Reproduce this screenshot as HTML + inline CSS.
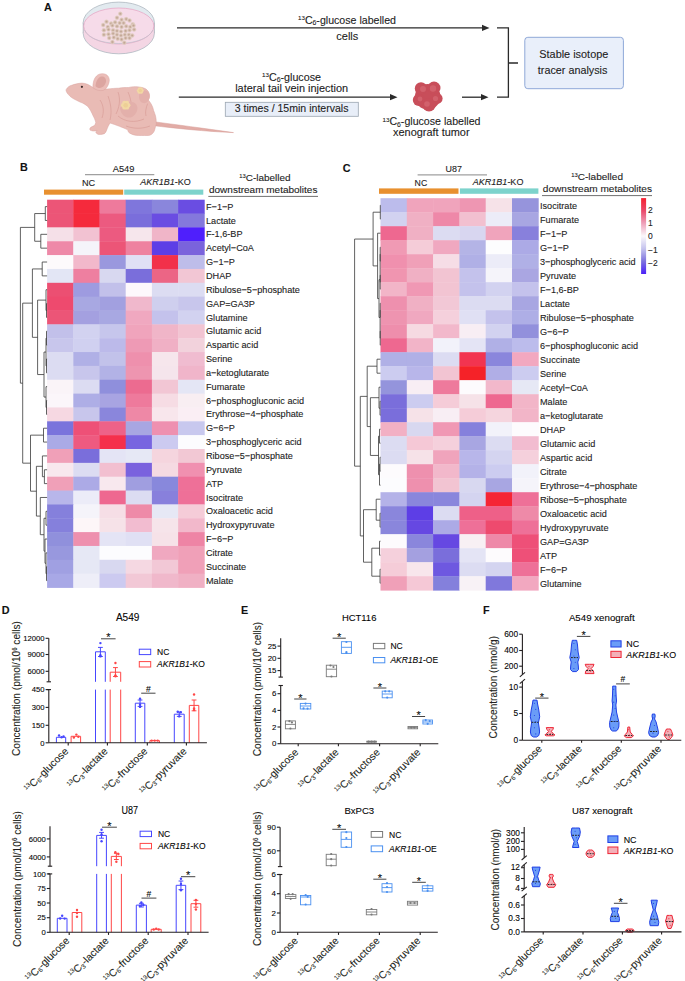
<!DOCTYPE html><html><head><meta charset="utf-8"><style>html,body{margin:0;padding:0;background:#fff;}svg{display:block;font-family:"Liberation Sans", sans-serif;} text{stroke:#231f20;stroke-width:0.1px;}</style></head><body><svg width="685" height="981" viewBox="0 0 685 981"><rect width="685" height="981" fill="#fff"/><text x="44.00" y="11.20" font-size="10.8" font-weight="bold" fill="#111">A</text>
<g>
<ellipse cx="118.8" cy="33.2" rx="35.6" ry="20.6" fill="#f4d6e4" stroke="#aeb8c0" stroke-width="0.8"/>
<rect x="83.2" y="22.7" width="71.2" height="10.5" fill="#f4d6e4"/>
<line x1="83.2" y1="22.7" x2="83.2" y2="33.2" stroke="#aeb8c0" stroke-width="0.8"/>
<line x1="154.4" y1="22.7" x2="154.4" y2="33.2" stroke="#aeb8c0" stroke-width="0.8"/>
<ellipse cx="118.8" cy="22.7" rx="35.6" ry="20.6" fill="#e2eaef" stroke="#aeb8c0" stroke-width="0.8"/>
<ellipse cx="118.8" cy="26.0" rx="35.1" ry="18.0" fill="#f6dbe9" stroke="#e4a2c2" stroke-width="0.7"/>
<path d="M84.5,30 C88,38 100,43 118.8,43.5 C137,43 149,38 153,30" fill="none" stroke="#b8c4cc" stroke-width="0.6"/>
<circle cx="120.3" cy="13.8" r="2.0" fill="#d4bcae" stroke="#e6d6cc" stroke-width="0.5"/>
<circle cx="120.3" cy="13.8" r="0.8" fill="#c0a393"/>
<circle cx="117.0" cy="17.7" r="2.0" fill="#d4bcae" stroke="#e6d6cc" stroke-width="0.5"/>
<circle cx="117.0" cy="17.7" r="0.8" fill="#c0a393"/>
<circle cx="121.6" cy="19.7" r="2.0" fill="#d4bcae" stroke="#e6d6cc" stroke-width="0.5"/>
<circle cx="121.6" cy="19.7" r="0.8" fill="#c0a393"/>
<circle cx="126.2" cy="19.1" r="2.0" fill="#d4bcae" stroke="#e6d6cc" stroke-width="0.5"/>
<circle cx="126.2" cy="19.1" r="0.8" fill="#c0a393"/>
<circle cx="129.5" cy="20.4" r="2.0" fill="#d4bcae" stroke="#e6d6cc" stroke-width="0.5"/>
<circle cx="129.5" cy="20.4" r="0.8" fill="#c0a393"/>
<circle cx="106.5" cy="21.7" r="2.0" fill="#d4bcae" stroke="#e6d6cc" stroke-width="0.5"/>
<circle cx="106.5" cy="21.7" r="0.8" fill="#c0a393"/>
<circle cx="111.1" cy="23.6" r="2.0" fill="#d4bcae" stroke="#e6d6cc" stroke-width="0.5"/>
<circle cx="111.1" cy="23.6" r="0.8" fill="#c0a393"/>
<circle cx="115.1" cy="22.3" r="2.0" fill="#d4bcae" stroke="#e6d6cc" stroke-width="0.5"/>
<circle cx="115.1" cy="22.3" r="0.8" fill="#c0a393"/>
<circle cx="119.7" cy="23.0" r="2.0" fill="#d4bcae" stroke="#e6d6cc" stroke-width="0.5"/>
<circle cx="119.7" cy="23.0" r="0.8" fill="#c0a393"/>
<circle cx="123.6" cy="23.0" r="2.0" fill="#d4bcae" stroke="#e6d6cc" stroke-width="0.5"/>
<circle cx="123.6" cy="23.0" r="0.8" fill="#c0a393"/>
<circle cx="132.8" cy="24.3" r="2.0" fill="#d4bcae" stroke="#e6d6cc" stroke-width="0.5"/>
<circle cx="132.8" cy="24.3" r="0.8" fill="#c0a393"/>
<circle cx="103.2" cy="25.0" r="2.0" fill="#d4bcae" stroke="#e6d6cc" stroke-width="0.5"/>
<circle cx="103.2" cy="25.0" r="0.8" fill="#c0a393"/>
<circle cx="107.8" cy="26.9" r="2.0" fill="#d4bcae" stroke="#e6d6cc" stroke-width="0.5"/>
<circle cx="107.8" cy="26.9" r="0.8" fill="#c0a393"/>
<circle cx="112.4" cy="25.6" r="2.0" fill="#d4bcae" stroke="#e6d6cc" stroke-width="0.5"/>
<circle cx="112.4" cy="25.6" r="0.8" fill="#c0a393"/>
<circle cx="117.0" cy="26.3" r="2.0" fill="#d4bcae" stroke="#e6d6cc" stroke-width="0.5"/>
<circle cx="117.0" cy="26.3" r="0.8" fill="#c0a393"/>
<circle cx="121.6" cy="26.9" r="2.0" fill="#d4bcae" stroke="#e6d6cc" stroke-width="0.5"/>
<circle cx="121.6" cy="26.9" r="0.8" fill="#c0a393"/>
<circle cx="126.2" cy="26.3" r="2.0" fill="#d4bcae" stroke="#e6d6cc" stroke-width="0.5"/>
<circle cx="126.2" cy="26.3" r="0.8" fill="#c0a393"/>
<circle cx="130.2" cy="26.9" r="2.0" fill="#d4bcae" stroke="#e6d6cc" stroke-width="0.5"/>
<circle cx="130.2" cy="26.9" r="0.8" fill="#c0a393"/>
<circle cx="133.5" cy="25.6" r="2.0" fill="#d4bcae" stroke="#e6d6cc" stroke-width="0.5"/>
<circle cx="133.5" cy="25.6" r="0.8" fill="#c0a393"/>
<circle cx="103.9" cy="30.2" r="2.0" fill="#d4bcae" stroke="#e6d6cc" stroke-width="0.5"/>
<circle cx="103.9" cy="30.2" r="0.8" fill="#c0a393"/>
<circle cx="108.5" cy="29.6" r="2.0" fill="#d4bcae" stroke="#e6d6cc" stroke-width="0.5"/>
<circle cx="108.5" cy="29.6" r="0.8" fill="#c0a393"/>
<circle cx="113.1" cy="30.2" r="2.0" fill="#d4bcae" stroke="#e6d6cc" stroke-width="0.5"/>
<circle cx="113.1" cy="30.2" r="0.8" fill="#c0a393"/>
<circle cx="117.0" cy="30.9" r="2.0" fill="#d4bcae" stroke="#e6d6cc" stroke-width="0.5"/>
<circle cx="117.0" cy="30.9" r="0.8" fill="#c0a393"/>
<circle cx="121.0" cy="31.5" r="2.0" fill="#d4bcae" stroke="#e6d6cc" stroke-width="0.5"/>
<circle cx="121.0" cy="31.5" r="0.8" fill="#c0a393"/>
<circle cx="125.6" cy="30.9" r="2.0" fill="#d4bcae" stroke="#e6d6cc" stroke-width="0.5"/>
<circle cx="125.6" cy="30.9" r="0.8" fill="#c0a393"/>
<circle cx="129.5" cy="30.2" r="2.0" fill="#d4bcae" stroke="#e6d6cc" stroke-width="0.5"/>
<circle cx="129.5" cy="30.2" r="0.8" fill="#c0a393"/>
<circle cx="134.1" cy="29.6" r="2.0" fill="#d4bcae" stroke="#e6d6cc" stroke-width="0.5"/>
<circle cx="134.1" cy="29.6" r="0.8" fill="#c0a393"/>
<circle cx="103.9" cy="34.8" r="2.0" fill="#d4bcae" stroke="#e6d6cc" stroke-width="0.5"/>
<circle cx="103.9" cy="34.8" r="0.8" fill="#c0a393"/>
<circle cx="108.5" cy="34.2" r="2.0" fill="#d4bcae" stroke="#e6d6cc" stroke-width="0.5"/>
<circle cx="108.5" cy="34.2" r="0.8" fill="#c0a393"/>
<circle cx="113.1" cy="33.5" r="2.0" fill="#d4bcae" stroke="#e6d6cc" stroke-width="0.5"/>
<circle cx="113.1" cy="33.5" r="0.8" fill="#c0a393"/>
<circle cx="117.0" cy="34.8" r="2.0" fill="#d4bcae" stroke="#e6d6cc" stroke-width="0.5"/>
<circle cx="117.0" cy="34.8" r="0.8" fill="#c0a393"/>
<circle cx="121.0" cy="35.5" r="2.0" fill="#d4bcae" stroke="#e6d6cc" stroke-width="0.5"/>
<circle cx="121.0" cy="35.5" r="0.8" fill="#c0a393"/>
<circle cx="124.9" cy="34.8" r="2.0" fill="#d4bcae" stroke="#e6d6cc" stroke-width="0.5"/>
<circle cx="124.9" cy="34.8" r="0.8" fill="#c0a393"/>
<circle cx="128.9" cy="34.8" r="2.0" fill="#d4bcae" stroke="#e6d6cc" stroke-width="0.5"/>
<circle cx="128.9" cy="34.8" r="0.8" fill="#c0a393"/>
<circle cx="132.2" cy="35.5" r="2.0" fill="#d4bcae" stroke="#e6d6cc" stroke-width="0.5"/>
<circle cx="132.2" cy="35.5" r="0.8" fill="#c0a393"/>
<circle cx="109.2" cy="38.1" r="2.0" fill="#d4bcae" stroke="#e6d6cc" stroke-width="0.5"/>
<circle cx="109.2" cy="38.1" r="0.8" fill="#c0a393"/>
<circle cx="113.8" cy="37.4" r="2.0" fill="#d4bcae" stroke="#e6d6cc" stroke-width="0.5"/>
<circle cx="113.8" cy="37.4" r="0.8" fill="#c0a393"/>
<circle cx="117.7" cy="38.8" r="2.0" fill="#d4bcae" stroke="#e6d6cc" stroke-width="0.5"/>
<circle cx="117.7" cy="38.8" r="0.8" fill="#c0a393"/>
<circle cx="121.6" cy="39.4" r="2.0" fill="#d4bcae" stroke="#e6d6cc" stroke-width="0.5"/>
<circle cx="121.6" cy="39.4" r="0.8" fill="#c0a393"/>
<circle cx="125.6" cy="38.1" r="2.0" fill="#d4bcae" stroke="#e6d6cc" stroke-width="0.5"/>
<circle cx="125.6" cy="38.1" r="0.8" fill="#c0a393"/>
<circle cx="129.5" cy="38.1" r="2.0" fill="#d4bcae" stroke="#e6d6cc" stroke-width="0.5"/>
<circle cx="129.5" cy="38.1" r="0.8" fill="#c0a393"/>
<circle cx="112.4" cy="42.0" r="2.0" fill="#d4bcae" stroke="#e6d6cc" stroke-width="0.5"/>
<circle cx="112.4" cy="42.0" r="0.8" fill="#c0a393"/>
<circle cx="124.3" cy="42.7" r="2.0" fill="#d4bcae" stroke="#e6d6cc" stroke-width="0.5"/>
<circle cx="124.3" cy="42.7" r="0.8" fill="#c0a393"/>
</g>
<path d="M152,121.5 C175,124.5 205,128.5 233.5,132.6 C205,131.5 176,128.3 152,125.5 Z" fill="#e2aca6" stroke="#d69c97" stroke-width="0.5"/>
<path d="M66.1,89.7 C67.5,87 69.5,85.8 71.7,85.3 C75,84 78.5,83.3 81.9,83.1 C86,83.2 89.5,85 92.8,87.5 C98,88.6 104,88.6 107.4,89 C112,88.5 116,88.2 118.4,88.2 C122,87.6 126,87.5 128.6,87.5 C132,86.6 135,86.5 137.4,86.8 C142,87.2 146,88 148,91 C150,93.5 150,98 148.3,100 C151,103 153,107 153.6,110.5 C155,114 156.5,118 156.2,122.3 C156.5,124 156,125.5 155.5,126.3 C155,129 154.5,131 153.6,132.2 C152,134.5 150,135.5 148.3,135.5 C143,135.6 139,135.5 135.2,135.2 C132,134.5 130,133.5 128.6,132.2 C128,131 127.8,130.2 127.3,129.6 C124,128 121.5,127.2 119.4,126.3 C116,125 113,124 110.2,123 C108.5,125 107.5,128 106.3,130.9 C105.5,133 104.5,133.8 103.6,133.9 C101.5,134.5 100,134.5 98.4,134.4 C97,134 96,133 95.8,132.2 C96,131.5 96.5,131 97.1,130.2 C95.5,131 94,131.2 92.5,130.9 C90.5,130.5 89.5,130 89.9,129.6 C89.8,128.5 90,128 90.5,127.6 C92,126.5 93.5,126 94.5,125.6 C95.2,124.5 95.5,123.5 95.8,122.3 C95,119.5 94,117.5 93.1,115.8 C91.5,112 89.8,109 87.9,106.6 C85.5,104.5 83,103 80,102 C77.5,100.8 75.3,99.7 73.1,98.5 C71,97.3 69.3,95.8 68,94.1 C66.8,92.6 65.8,91 66.1,89.7 Z" fill="#e9bbb5" stroke="#d9a39e" stroke-width="0.5"/>
<path d="M92.8,87.5 C93,82 94,78.5 96.5,76 C99,73.5 103,73 106,74.5 C109.5,76.5 110,80.5 108.5,84 C107.5,87 106,89 103,90.5 C99,91 95.5,90 92.8,87.5 Z" fill="#ebbdb8" stroke="#d9a39e" stroke-width="0.5"/>
<path d="M95.5,86 C96,81 98,77.5 101,76.5 C104,76 106.5,78 106,82 C105,85.5 103,87.5 100,88 C98,88 96.5,87.5 95.5,86 Z" fill="#dca5a0"/>
<path d="M147.6,103.6 C146,108 145,112 146,116 M118,92 C121,100 119,108 116,114 M128,92 C131,99 132,104 130,110 M108,96 C111,104 112,112 110,120 M123,112 C128,114 134,113 137,110 M118,116 C125,122 135,123 144,119 M126,126 C134,129 142,129 150,126 M100,100 C104,106 104,112 102,118" fill="none" stroke="#d49590" stroke-width="0.6" opacity="0.9"/>
<path d="M120,108 C124,101 132,100 136,104 C139,108 137,114 132,117 C127,119 121,116 120,108 Z" fill="#e3b0ab"/>
<path d="M140,92 C143,89 149,90 149.5,95 C150,100 147,104 143,103 C139,102 138,96 140,92 Z" fill="#e3b0ab"/>
<circle cx="81.9" cy="86.8" r="1.1" fill="#3a2a2a"/>
<circle cx="128.23" cy="105.20" r="2.21" fill="#f2d8a4"/>
<circle cx="126.97" cy="107.39" r="2.21" fill="#f2d8a4"/>
<circle cx="124.44" cy="107.39" r="2.21" fill="#f2d8a4"/>
<circle cx="123.17" cy="105.20" r="2.21" fill="#f2d8a4"/>
<circle cx="124.44" cy="103.01" r="2.21" fill="#f2d8a4"/>
<circle cx="126.97" cy="103.01" r="2.21" fill="#f2d8a4"/>
<circle cx="125.7" cy="105.2" r="2.30" fill="#edcf96"/>
<circle cx="142.17" cy="90.60" r="1.63" fill="#f2d8a4"/>
<circle cx="141.24" cy="92.22" r="1.63" fill="#f2d8a4"/>
<circle cx="139.37" cy="92.22" r="1.63" fill="#f2d8a4"/>
<circle cx="138.43" cy="90.60" r="1.63" fill="#f2d8a4"/>
<circle cx="139.37" cy="88.98" r="1.63" fill="#f2d8a4"/>
<circle cx="141.24" cy="88.98" r="1.63" fill="#f2d8a4"/>
<circle cx="140.3" cy="90.6" r="1.70" fill="#edcf96"/>
<line x1="177.00" y1="27.90" x2="483.00" y2="27.90" stroke="#2a2a2a" stroke-width="1.3"/>
<path d="M482,24.8 L489.5,27.9 L482,31 Z" fill="#2a2a2a"/>
<line x1="178.80" y1="97.20" x2="391.00" y2="97.20" stroke="#2a2a2a" stroke-width="1.3"/>
<path d="M390,94.1 L397.5,97.2 L390,100.3 Z" fill="#2a2a2a"/>
<line x1="462.00" y1="97.20" x2="482.00" y2="97.20" stroke="#2a2a2a" stroke-width="1.3"/>
<path d="M481,94.1 L488.5,97.2 L481,100.3 Z" fill="#2a2a2a"/>
<path d="M497,27.9 H508.4 V97.2 H497 M508.4,63 H518" fill="none" stroke="#2a2a2a" stroke-width="1.3"/>
<rect x="524.80" y="37.30" width="98.60" height="51.40" fill="#e9effa" stroke="#8fa8d8" stroke-width="1" rx="3" />
<text x="573.80" y="57.90" font-size="11.2" text-anchor="middle" fill="#222" textLength="69.00" lengthAdjust="spacingAndGlyphs">Stable isotope</text>
<text x="572.60" y="73.50" font-size="11.2" text-anchor="middle" fill="#222" textLength="69.50" lengthAdjust="spacingAndGlyphs">tracer analysis</text>
<text x="298.00" y="23.50" font-size="10.6" fill="#222" textLength="98.00" lengthAdjust="spacingAndGlyphs"><tspan font-size="6.2" dy="-3.6">13</tspan><tspan dy="3.6">C</tspan><tspan font-size="6.8" dy="1.3">6</tspan><tspan dy="-1.3">-glucose labelled</tspan></text>
<text x="336.30" y="39.50" font-size="10.6" fill="#222" textLength="22.00" lengthAdjust="spacingAndGlyphs">cells</text>
<text x="262.00" y="80.60" font-size="10.6" fill="#222" textLength="59.00" lengthAdjust="spacingAndGlyphs"><tspan font-size="6.2" dy="-3.6">13</tspan><tspan dy="3.6">C</tspan><tspan font-size="6.8" dy="1.3">6</tspan><tspan dy="-1.3">-glucose</tspan></text>
<text x="235.20" y="92.00" font-size="10.6" fill="#222" textLength="113.00" lengthAdjust="spacingAndGlyphs">lateral tail vein injection</text>
<rect x="225.30" y="102.30" width="133.00" height="14.00" fill="#e8eef8" stroke="#9aa4b0" stroke-width="0.8" />
<text x="234.70" y="112.20" font-size="10.6" fill="#222" textLength="113.80" lengthAdjust="spacingAndGlyphs">3 times / 15min intervals</text>
<text x="382.50" y="125.40" font-size="10.6" fill="#222" textLength="98.00" lengthAdjust="spacingAndGlyphs"><tspan font-size="6.2" dy="-3.6">13</tspan><tspan dy="3.6">C</tspan><tspan font-size="6.8" dy="1.3">6</tspan><tspan dy="-1.3">-glucose labelled</tspan></text>
<text x="393.00" y="135.80" font-size="10.6" fill="#222" textLength="76.60" lengthAdjust="spacingAndGlyphs">xenograft tumor</text>
<g>
<circle cx="427.7" cy="96.8" r="12.8" fill="#c84e5a"/>
<circle cx="421" cy="88.5" r="6.2" fill="#c84e5a"/>
<circle cx="434" cy="88" r="6.5" fill="#c84e5a"/>
<circle cx="437.2" cy="98.5" r="5.4" fill="#c84e5a"/>
<circle cx="429" cy="104.8" r="6.8" fill="#c84e5a"/>
<circle cx="418.8" cy="100" r="6" fill="#c84e5a"/>
<circle cx="423" cy="89" r="3.0" fill="#d66a74" opacity="0.7"/>
<circle cx="433" cy="88.5" r="3.2" fill="#d66a74" opacity="0.7"/>
<circle cx="435.5" cy="98.5" r="2.6" fill="#d66a74" opacity="0.7"/>
<circle cx="427" cy="104" r="2.8" fill="#d66a74" opacity="0.7"/>
<circle cx="420" cy="99" r="2.4" fill="#d66a74" opacity="0.7"/>
</g>
<text x="20.00" y="171.40" font-size="10.8" font-weight="bold" fill="#111">B</text>
<text x="112.70" y="171.80" font-size="9" fill="#222" textLength="21.80" lengthAdjust="spacingAndGlyphs">A549</text>
<line x1="85.00" y1="174.60" x2="154.30" y2="174.60" stroke="#a0a0a0" stroke-width="1.2"/>
<text x="82.00" y="185.80" font-size="9" fill="#222" textLength="13.20" lengthAdjust="spacingAndGlyphs">NC</text>
<text x="190.70" y="185.30" font-size="9" text-anchor="end" fill="#222"><tspan font-style="italic">AKR1B1</tspan>-KO</text>
<rect x="44.00" y="189.60" width="79.20" height="5.10" fill="#e8902f" />
<rect x="124.20" y="189.60" width="79.10" height="5.10" fill="#7dd3cc" />
<text x="239.30" y="181.30" font-size="9.5" fill="#222" textLength="51.30" lengthAdjust="spacingAndGlyphs"><tspan font-size="5.5" dy="-3.5">13</tspan><tspan dy="3.5">C-labelled</tspan></text>
<text x="209.00" y="193.10" font-size="9.5" fill="#222" textLength="108.40" lengthAdjust="spacingAndGlyphs">downstream metabolites</text>
<line x1="208.30" y1="196.40" x2="318.00" y2="196.40" stroke="#707070" stroke-width="1"/>
<rect x="47.10" y="199.70" width="26.60" height="14.25" fill="#ec5577"/>
<rect x="73.30" y="199.70" width="26.60" height="14.25" fill="#f52a3c"/>
<rect x="99.50" y="199.70" width="26.60" height="14.25" fill="#ee7a9c"/>
<rect x="125.70" y="199.70" width="26.60" height="14.25" fill="#7f76dc"/>
<rect x="151.90" y="199.70" width="26.60" height="14.25" fill="#8a86dc"/>
<rect x="178.10" y="199.70" width="26.60" height="14.25" fill="#6a4de2"/>
<rect x="47.10" y="213.55" width="26.60" height="14.25" fill="#ec5577"/>
<rect x="73.30" y="213.55" width="26.60" height="14.25" fill="#f52a3c"/>
<rect x="99.50" y="213.55" width="26.60" height="14.25" fill="#ec5a80"/>
<rect x="125.70" y="213.55" width="26.60" height="14.25" fill="#7a6edb"/>
<rect x="151.90" y="213.55" width="26.60" height="14.25" fill="#6a4de2"/>
<rect x="178.10" y="213.55" width="26.60" height="14.25" fill="#8478dc"/>
<rect x="47.10" y="227.40" width="26.60" height="14.25" fill="#f5e0e8"/>
<rect x="73.30" y="227.40" width="26.60" height="14.25" fill="#f2c2d2"/>
<rect x="99.50" y="227.40" width="26.60" height="14.25" fill="#ec5a80"/>
<rect x="125.70" y="227.40" width="26.60" height="14.25" fill="#f6e6ec"/>
<rect x="151.90" y="227.40" width="26.60" height="14.25" fill="#f0b5c8"/>
<rect x="178.10" y="227.40" width="26.60" height="14.25" fill="#4f1ffc"/>
<rect x="47.10" y="241.25" width="26.60" height="14.25" fill="#ee89a8"/>
<rect x="73.30" y="241.25" width="26.60" height="14.25" fill="#f5f4fa"/>
<rect x="99.50" y="241.25" width="26.60" height="14.25" fill="#ec5577"/>
<rect x="125.70" y="241.25" width="26.60" height="14.25" fill="#ee82a0"/>
<rect x="151.90" y="241.25" width="26.60" height="14.25" fill="#5d3ee6"/>
<rect x="178.10" y="241.25" width="26.60" height="14.25" fill="#7a63dc"/>
<rect x="47.10" y="255.10" width="26.60" height="14.25" fill="#fdfafc"/>
<rect x="73.30" y="255.10" width="26.60" height="14.25" fill="#f2b8cb"/>
<rect x="99.50" y="255.10" width="26.60" height="14.25" fill="#9a98de"/>
<rect x="125.70" y="255.10" width="26.60" height="14.25" fill="#e0e0f5"/>
<rect x="151.90" y="255.10" width="26.60" height="14.25" fill="#f2304a"/>
<rect x="178.10" y="255.10" width="26.60" height="14.25" fill="#bebdea"/>
<rect x="47.10" y="268.95" width="26.60" height="14.25" fill="#e3e6f5"/>
<rect x="73.30" y="268.95" width="26.60" height="14.25" fill="#ee7fa0"/>
<rect x="99.50" y="268.95" width="26.60" height="14.25" fill="#d8d8f0"/>
<rect x="125.70" y="268.95" width="26.60" height="14.25" fill="#7a6edb"/>
<rect x="151.90" y="268.95" width="26.60" height="14.25" fill="#ec6585"/>
<rect x="178.10" y="268.95" width="26.60" height="14.25" fill="#f2c6d4"/>
<rect x="47.10" y="282.80" width="26.60" height="14.25" fill="#ec4f72"/>
<rect x="73.30" y="282.80" width="26.60" height="14.25" fill="#9e9be0"/>
<rect x="99.50" y="282.80" width="26.60" height="14.25" fill="#c2c0ea"/>
<rect x="125.70" y="282.80" width="26.60" height="14.25" fill="#fdf8fc"/>
<rect x="151.90" y="282.80" width="26.60" height="14.25" fill="#dcdcf2"/>
<rect x="178.10" y="282.80" width="26.60" height="14.25" fill="#dcdcf2"/>
<rect x="47.10" y="296.65" width="26.60" height="14.25" fill="#ee4a6e"/>
<rect x="73.30" y="296.65" width="26.60" height="14.25" fill="#a8a8e2"/>
<rect x="99.50" y="296.65" width="26.60" height="14.25" fill="#a2a0e0"/>
<rect x="125.70" y="296.65" width="26.60" height="14.25" fill="#f0b8cc"/>
<rect x="151.90" y="296.65" width="26.60" height="14.25" fill="#cfcfee"/>
<rect x="178.10" y="296.65" width="26.60" height="14.25" fill="#c8c6ec"/>
<rect x="47.10" y="310.50" width="26.60" height="14.25" fill="#ec5577"/>
<rect x="73.30" y="310.50" width="26.60" height="14.25" fill="#a4a0e0"/>
<rect x="99.50" y="310.50" width="26.60" height="14.25" fill="#a8a8e2"/>
<rect x="125.70" y="310.50" width="26.60" height="14.25" fill="#f0a8c0"/>
<rect x="151.90" y="310.50" width="26.60" height="14.25" fill="#c4c2ec"/>
<rect x="178.10" y="310.50" width="26.60" height="14.25" fill="#d2d2f0"/>
<rect x="47.10" y="324.35" width="26.60" height="14.25" fill="#c2c0ea"/>
<rect x="73.30" y="324.35" width="26.60" height="14.25" fill="#d2d2f0"/>
<rect x="99.50" y="324.35" width="26.60" height="14.25" fill="#c6c6ec"/>
<rect x="125.70" y="324.35" width="26.60" height="14.25" fill="#f0a4bc"/>
<rect x="151.90" y="324.35" width="26.60" height="14.25" fill="#f0b5c8"/>
<rect x="178.10" y="324.35" width="26.60" height="14.25" fill="#f2c4d2"/>
<rect x="47.10" y="338.20" width="26.60" height="14.25" fill="#c8c6ec"/>
<rect x="73.30" y="338.20" width="26.60" height="14.25" fill="#d0d0f0"/>
<rect x="99.50" y="338.20" width="26.60" height="14.25" fill="#bcbaea"/>
<rect x="125.70" y="338.20" width="26.60" height="14.25" fill="#ee9ab5"/>
<rect x="151.90" y="338.20" width="26.60" height="14.25" fill="#f0b0c5"/>
<rect x="178.10" y="338.20" width="26.60" height="14.25" fill="#f2d2dc"/>
<rect x="47.10" y="352.05" width="26.60" height="14.25" fill="#dcdcf2"/>
<rect x="73.30" y="352.05" width="26.60" height="14.25" fill="#b0b0e6"/>
<rect x="99.50" y="352.05" width="26.60" height="14.25" fill="#c2c2ea"/>
<rect x="125.70" y="352.05" width="26.60" height="14.25" fill="#ee90ad"/>
<rect x="151.90" y="352.05" width="26.60" height="14.25" fill="#f6e6ec"/>
<rect x="178.10" y="352.05" width="26.60" height="14.25" fill="#f0bcd0"/>
<rect x="47.10" y="365.90" width="26.60" height="14.25" fill="#dcdcf2"/>
<rect x="73.30" y="365.90" width="26.60" height="14.25" fill="#c8c6ec"/>
<rect x="99.50" y="365.90" width="26.60" height="14.25" fill="#b2b2e6"/>
<rect x="125.70" y="365.90" width="26.60" height="14.25" fill="#ee95b0"/>
<rect x="151.90" y="365.90" width="26.60" height="14.25" fill="#f5e5ec"/>
<rect x="178.10" y="365.90" width="26.60" height="14.25" fill="#f0b5ca"/>
<rect x="47.10" y="379.75" width="26.60" height="14.25" fill="#faf4f8"/>
<rect x="73.30" y="379.75" width="26.60" height="14.25" fill="#dcdcf2"/>
<rect x="99.50" y="379.75" width="26.60" height="14.25" fill="#8f8fdc"/>
<rect x="125.70" y="379.75" width="26.60" height="14.25" fill="#ec6b90"/>
<rect x="151.90" y="379.75" width="26.60" height="14.25" fill="#f2c6d4"/>
<rect x="178.10" y="379.75" width="26.60" height="14.25" fill="#e4e6f5"/>
<rect x="47.10" y="393.60" width="26.60" height="14.25" fill="#fbf6fa"/>
<rect x="73.30" y="393.60" width="26.60" height="14.25" fill="#aeaee6"/>
<rect x="99.50" y="393.60" width="26.60" height="14.25" fill="#a8a4e2"/>
<rect x="125.70" y="393.60" width="26.60" height="14.25" fill="#ee7a9c"/>
<rect x="151.90" y="393.60" width="26.60" height="14.25" fill="#f6dce4"/>
<rect x="178.10" y="393.60" width="26.60" height="14.25" fill="#f8eef2"/>
<rect x="47.10" y="407.45" width="26.60" height="14.25" fill="#f6d8e2"/>
<rect x="73.30" y="407.45" width="26.60" height="14.25" fill="#c8c6ec"/>
<rect x="99.50" y="407.45" width="26.60" height="14.25" fill="#8a86dc"/>
<rect x="125.70" y="407.45" width="26.60" height="14.25" fill="#ee88a6"/>
<rect x="151.90" y="407.45" width="26.60" height="14.25" fill="#f8e6ec"/>
<rect x="178.10" y="407.45" width="26.60" height="14.25" fill="#faeef4"/>
<rect x="47.10" y="421.30" width="26.60" height="14.25" fill="#7a74dc"/>
<rect x="73.30" y="421.30" width="26.60" height="14.25" fill="#ee5077"/>
<rect x="99.50" y="421.30" width="26.60" height="14.25" fill="#ee6288"/>
<rect x="125.70" y="421.30" width="26.60" height="14.25" fill="#a8a6e2"/>
<rect x="151.90" y="421.30" width="26.60" height="14.25" fill="#ee90b0"/>
<rect x="178.10" y="421.30" width="26.60" height="14.25" fill="#c8c8ee"/>
<rect x="47.10" y="435.15" width="26.60" height="14.25" fill="#aaaae6"/>
<rect x="73.30" y="435.15" width="26.60" height="14.25" fill="#ee5a80"/>
<rect x="99.50" y="435.15" width="26.60" height="14.25" fill="#f5304c"/>
<rect x="125.70" y="435.15" width="26.60" height="14.25" fill="#7865e0"/>
<rect x="151.90" y="435.15" width="26.60" height="14.25" fill="#cccaf0"/>
<rect x="178.10" y="435.15" width="26.60" height="14.25" fill="#fcfcfe"/>
<rect x="47.10" y="449.00" width="26.60" height="14.25" fill="#f0a0b8"/>
<rect x="73.30" y="449.00" width="26.60" height="14.25" fill="#7a6edb"/>
<rect x="99.50" y="449.00" width="26.60" height="14.25" fill="#e4e4f5"/>
<rect x="125.70" y="449.00" width="26.60" height="14.25" fill="#e6e8f5"/>
<rect x="151.90" y="449.00" width="26.60" height="14.25" fill="#f5d5de"/>
<rect x="178.10" y="449.00" width="26.60" height="14.25" fill="#f2c8d4"/>
<rect x="47.10" y="462.85" width="26.60" height="14.25" fill="#f8e8ee"/>
<rect x="73.30" y="462.85" width="26.60" height="14.25" fill="#dcdcf2"/>
<rect x="99.50" y="462.85" width="26.60" height="14.25" fill="#f2bfd0"/>
<rect x="125.70" y="462.85" width="26.60" height="14.25" fill="#7a62de"/>
<rect x="151.90" y="462.85" width="26.60" height="14.25" fill="#f5dae2"/>
<rect x="178.10" y="462.85" width="26.60" height="14.25" fill="#f090b0"/>
<rect x="47.10" y="476.70" width="26.60" height="14.25" fill="#f0a0b8"/>
<rect x="73.30" y="476.70" width="26.60" height="14.25" fill="#acaae6"/>
<rect x="99.50" y="476.70" width="26.60" height="14.25" fill="#f8e8ee"/>
<rect x="125.70" y="476.70" width="26.60" height="14.25" fill="#a09ee0"/>
<rect x="151.90" y="476.70" width="26.60" height="14.25" fill="#8888dc"/>
<rect x="178.10" y="476.70" width="26.60" height="14.25" fill="#ee7098"/>
<rect x="47.10" y="490.55" width="26.60" height="14.25" fill="#b8b6ea"/>
<rect x="73.30" y="490.55" width="26.60" height="14.25" fill="#ececf8"/>
<rect x="99.50" y="490.55" width="26.60" height="14.25" fill="#ee6890"/>
<rect x="125.70" y="490.55" width="26.60" height="14.25" fill="#dcdcf2"/>
<rect x="151.90" y="490.55" width="26.60" height="14.25" fill="#8880dc"/>
<rect x="178.10" y="490.55" width="26.60" height="14.25" fill="#ee7098"/>
<rect x="47.10" y="504.40" width="26.60" height="14.25" fill="#8580dc"/>
<rect x="73.30" y="504.40" width="26.60" height="14.25" fill="#f5f4fa"/>
<rect x="99.50" y="504.40" width="26.60" height="14.25" fill="#f6dee6"/>
<rect x="125.70" y="504.40" width="26.60" height="14.25" fill="#ee8aa8"/>
<rect x="151.90" y="504.40" width="26.60" height="14.25" fill="#e6e8f5"/>
<rect x="178.10" y="504.40" width="26.60" height="14.25" fill="#f5ccd8"/>
<rect x="47.10" y="518.25" width="26.60" height="14.25" fill="#8580dc"/>
<rect x="73.30" y="518.25" width="26.60" height="14.25" fill="#fdf6f8"/>
<rect x="99.50" y="518.25" width="26.60" height="14.25" fill="#f6e2e8"/>
<rect x="125.70" y="518.25" width="26.60" height="14.25" fill="#f2bcd0"/>
<rect x="151.90" y="518.25" width="26.60" height="14.25" fill="#f6e4ea"/>
<rect x="178.10" y="518.25" width="26.60" height="14.25" fill="#f2b8cb"/>
<rect x="47.10" y="532.10" width="26.60" height="14.25" fill="#9090dc"/>
<rect x="73.30" y="532.10" width="26.60" height="14.25" fill="#ee90ae"/>
<rect x="99.50" y="532.10" width="26.60" height="14.25" fill="#e4e4f5"/>
<rect x="125.70" y="532.10" width="26.60" height="14.25" fill="#e0e0f4"/>
<rect x="151.90" y="532.10" width="26.60" height="14.25" fill="#f6e2e8"/>
<rect x="178.10" y="532.10" width="26.60" height="14.25" fill="#ee84a5"/>
<rect x="47.10" y="545.95" width="26.60" height="14.25" fill="#9898de"/>
<rect x="73.30" y="545.95" width="26.60" height="14.25" fill="#e6e8f5"/>
<rect x="99.50" y="545.95" width="26.60" height="14.25" fill="#fcfcfe"/>
<rect x="125.70" y="545.95" width="26.60" height="14.25" fill="#fcfcfe"/>
<rect x="151.90" y="545.95" width="26.60" height="14.25" fill="#f0a8c0"/>
<rect x="178.10" y="545.95" width="26.60" height="14.25" fill="#f0a0b8"/>
<rect x="47.10" y="559.80" width="26.60" height="14.25" fill="#a0a0e2"/>
<rect x="73.30" y="559.80" width="26.60" height="14.25" fill="#e6e8f5"/>
<rect x="99.50" y="559.80" width="26.60" height="14.25" fill="#d8d8f0"/>
<rect x="125.70" y="559.80" width="26.60" height="14.25" fill="#f5d8e2"/>
<rect x="151.90" y="559.80" width="26.60" height="14.25" fill="#f2c8d6"/>
<rect x="178.10" y="559.80" width="26.60" height="14.25" fill="#f0a0b8"/>
<rect x="47.10" y="573.65" width="26.60" height="14.25" fill="#a8a8e6"/>
<rect x="73.30" y="573.65" width="26.60" height="14.25" fill="#eeeef8"/>
<rect x="99.50" y="573.65" width="26.60" height="14.25" fill="#cccaf0"/>
<rect x="125.70" y="573.65" width="26.60" height="14.25" fill="#f2c8d6"/>
<rect x="151.90" y="573.65" width="26.60" height="14.25" fill="#f0b8cb"/>
<rect x="178.10" y="573.65" width="26.60" height="14.25" fill="#f0b0c4"/>
<text x="206.00" y="209.72" font-size="9.15" fill="#222">F−1−P</text>
<text x="206.00" y="223.57" font-size="9.15" fill="#222">Lactate</text>
<text x="206.00" y="237.42" font-size="9.15" fill="#222">F-1,6-BP</text>
<text x="206.00" y="251.27" font-size="9.15" fill="#222">Acetyl−CoA</text>
<text x="206.00" y="265.12" font-size="9.15" fill="#222">G−1−P</text>
<text x="206.00" y="278.98" font-size="9.15" fill="#222">DHAP</text>
<text x="206.00" y="292.82" font-size="9.15" fill="#222">Ribulose−5−phosphate</text>
<text x="206.00" y="306.68" font-size="9.15" fill="#222">GAP=GA3P</text>
<text x="206.00" y="320.52" font-size="9.15" fill="#222">Glutamine</text>
<text x="206.00" y="334.38" font-size="9.15" fill="#222">Glutamic acid</text>
<text x="206.00" y="348.23" font-size="9.15" fill="#222">Aspartic acid</text>
<text x="206.00" y="362.08" font-size="9.15" fill="#222">Serine</text>
<text x="206.00" y="375.93" font-size="9.15" fill="#222">a−ketoglutarate</text>
<text x="206.00" y="389.77" font-size="9.15" fill="#222">Fumarate</text>
<text x="206.00" y="403.62" font-size="9.15" fill="#222">6−phosphogluconic acid</text>
<text x="206.00" y="417.48" font-size="9.15" fill="#222">Erythrose−4−phosphate</text>
<text x="206.00" y="431.33" font-size="9.15" fill="#222">G−6−P</text>
<text x="206.00" y="445.18" font-size="9.15" fill="#222">3−phosphoglyceric acid</text>
<text x="206.00" y="459.02" font-size="9.15" fill="#222">Ribose−5−phosphate</text>
<text x="206.00" y="472.88" font-size="9.15" fill="#222">Pyruvate</text>
<text x="206.00" y="486.73" font-size="9.15" fill="#222">ATP</text>
<text x="206.00" y="500.57" font-size="9.15" fill="#222">Isocitrate</text>
<text x="206.00" y="514.42" font-size="9.15" fill="#222">Oxaloacetic acid</text>
<text x="206.00" y="528.27" font-size="9.15" fill="#222">Hydroxypyruvate</text>
<text x="206.00" y="542.12" font-size="9.15" fill="#222">F−6−P</text>
<text x="206.00" y="555.98" font-size="9.15" fill="#222">Citrate</text>
<text x="206.00" y="569.82" font-size="9.15" fill="#222">Succinate</text>
<text x="206.00" y="583.68" font-size="9.15" fill="#222">Malate</text>
<path d="M45.30,206.62 L45.30,220.47 M45.30,206.62 L47.10,206.62 M45.30,220.47 L47.10,220.47 M40.80,234.32 L40.80,248.17 M40.80,234.32 L47.10,234.32 M40.80,248.17 L47.10,248.17 M34.70,213.55 L34.70,241.25 M34.70,213.55 L45.30,213.55 M34.70,241.25 L40.80,241.25 M42.20,262.02 L42.20,275.88 M42.20,262.02 L47.10,262.02 M42.20,275.88 L47.10,275.88 M46.50,303.57 L46.50,317.42 M46.50,303.57 L47.10,303.57 M46.50,317.42 L47.10,317.42 M46.00,289.72 L46.00,310.50 M46.00,289.72 L47.10,289.72 M46.00,310.50 L46.50,310.50 M46.50,331.27 L46.50,345.12 M46.50,331.27 L47.10,331.27 M46.50,345.12 L47.10,345.12 M46.50,358.98 L46.50,372.82 M46.50,358.98 L47.10,358.98 M46.50,372.82 L47.10,372.82 M46.00,338.20 L46.00,365.90 M46.00,338.20 L46.50,338.20 M46.00,365.90 L46.50,365.90 M46.50,400.52 L46.50,414.38 M46.50,400.52 L47.10,400.52 M46.50,414.38 L47.10,414.38 M46.00,386.67 L46.00,407.45 M46.00,386.67 L47.10,386.67 M46.00,407.45 L46.50,407.45 M44.00,352.05 L44.00,397.06 M44.00,352.05 L46.00,352.05 M44.00,397.06 L46.00,397.06 M37.60,300.11 L37.60,374.56 M37.60,300.11 L46.00,300.11 M37.60,374.56 L44.00,374.56 M32.40,268.95 L32.40,337.33 M32.40,268.95 L42.20,268.95 M32.40,337.33 L37.60,337.33 M43.50,428.23 L43.50,442.07 M43.50,428.23 L47.10,428.23 M43.50,442.07 L47.10,442.07 M44.40,469.77 L44.40,483.62 M44.40,469.77 L47.10,469.77 M44.40,483.62 L47.10,483.62 M42.40,455.92 L42.40,476.70 M42.40,455.92 L47.10,455.92 M42.40,476.70 L44.40,476.70 M46.00,511.32 L46.00,525.17 M46.00,511.32 L47.10,511.32 M46.00,525.17 L47.10,525.17 M46.50,566.72 L46.50,580.58 M46.50,566.72 L47.10,566.72 M46.50,580.58 L47.10,580.58 M46.00,552.88 L46.00,573.65 M46.00,552.88 L47.10,552.88 M46.00,573.65 L46.50,573.65 M45.00,539.02 L45.00,563.26 M45.00,539.02 L47.10,539.02 M45.00,563.26 L46.00,563.26 M44.00,518.25 L44.00,551.14 M44.00,518.25 L46.00,518.25 M44.00,551.14 L45.00,551.14 M40.30,497.47 L40.30,534.70 M40.30,497.47 L47.10,497.47 M40.30,534.70 L44.00,534.70 M36.40,466.31 L36.40,516.09 M36.40,466.31 L42.40,466.31 M36.40,516.09 L40.30,516.09 M30.50,435.15 L30.50,491.20 M30.50,435.15 L43.50,435.15 M30.50,491.20 L36.40,491.20 M22.70,303.14 L22.70,463.17 M22.70,303.14 L32.40,303.14 M22.70,463.17 L30.50,463.17 M20.40,227.40 L20.40,383.16 M20.40,227.40 L34.70,227.40 M20.40,383.16 L22.70,383.16" fill="none" stroke="#3a3a3a" stroke-width="0.8"/>
<text x="342.80" y="171.80" font-size="10.8" font-weight="bold" fill="#111">C</text>
<text x="445.60" y="171.80" font-size="9" fill="#222" textLength="16.40" lengthAdjust="spacingAndGlyphs">U87</text>
<line x1="417.60" y1="174.90" x2="487.00" y2="174.90" stroke="#a0a0a0" stroke-width="1.2"/>
<text x="414.60" y="185.80" font-size="9" fill="#222" textLength="12.60" lengthAdjust="spacingAndGlyphs">NC</text>
<text x="523.40" y="185.30" font-size="9" text-anchor="end" fill="#222"><tspan font-style="italic">AKR1B1</tspan>-KO</text>
<rect x="379.00" y="188.40" width="79.50" height="5.40" fill="#e8902f" />
<rect x="459.90" y="188.40" width="78.50" height="5.40" fill="#7dd3cc" />
<text x="571.30" y="180.20" font-size="9.5" fill="#222" textLength="51.70" lengthAdjust="spacingAndGlyphs"><tspan font-size="5.5" dy="-3.5">13</tspan><tspan dy="3.5">C-labelled</tspan></text>
<text x="542.80" y="192.40" font-size="9.5" fill="#222" textLength="109.20" lengthAdjust="spacingAndGlyphs">downstream metabolites</text>
<line x1="542.00" y1="195.60" x2="652.00" y2="195.60" stroke="#707070" stroke-width="1"/>
<rect x="380.50" y="198.20" width="26.70" height="14.40" fill="#bcbcec"/>
<rect x="406.80" y="198.20" width="26.70" height="14.40" fill="#f0a4bc"/>
<rect x="433.10" y="198.20" width="26.70" height="14.40" fill="#f0a4bc"/>
<rect x="459.40" y="198.20" width="26.70" height="14.40" fill="#ee96b2"/>
<rect x="485.70" y="198.20" width="26.70" height="14.40" fill="#f6e2e8"/>
<rect x="512.00" y="198.20" width="26.70" height="14.40" fill="#9694dc"/>
<rect x="380.50" y="212.20" width="26.70" height="14.40" fill="#d2d2f0"/>
<rect x="406.80" y="212.20" width="26.70" height="14.40" fill="#f0b0c4"/>
<rect x="433.10" y="212.20" width="26.70" height="14.40" fill="#ee88a8"/>
<rect x="459.40" y="212.20" width="26.70" height="14.40" fill="#f2c0d0"/>
<rect x="485.70" y="212.20" width="26.70" height="14.40" fill="#ececf8"/>
<rect x="512.00" y="212.20" width="26.70" height="14.40" fill="#a8a6e2"/>
<rect x="380.50" y="226.20" width="26.70" height="14.40" fill="#ee6890"/>
<rect x="406.80" y="226.20" width="26.70" height="14.40" fill="#f0b0c4"/>
<rect x="433.10" y="226.20" width="26.70" height="14.40" fill="#dcdcf2"/>
<rect x="459.40" y="226.20" width="26.70" height="14.40" fill="#d8d6f0"/>
<rect x="485.70" y="226.20" width="26.70" height="14.40" fill="#f0a4bc"/>
<rect x="512.00" y="226.20" width="26.70" height="14.40" fill="#8880dc"/>
<rect x="380.50" y="240.20" width="26.70" height="14.40" fill="#f09ab4"/>
<rect x="406.80" y="240.20" width="26.70" height="14.40" fill="#f5ccd8"/>
<rect x="433.10" y="240.20" width="26.70" height="14.40" fill="#f0a8c0"/>
<rect x="459.40" y="240.20" width="26.70" height="14.40" fill="#b4b4e6"/>
<rect x="485.70" y="240.20" width="26.70" height="14.40" fill="#fdfdfe"/>
<rect x="512.00" y="240.20" width="26.70" height="14.40" fill="#acaae6"/>
<rect x="380.50" y="254.20" width="26.70" height="14.40" fill="#f090ae"/>
<rect x="406.80" y="254.20" width="26.70" height="14.40" fill="#f0a0b8"/>
<rect x="433.10" y="254.20" width="26.70" height="14.40" fill="#f6dde6"/>
<rect x="459.40" y="254.20" width="26.70" height="14.40" fill="#b0b0e6"/>
<rect x="485.70" y="254.20" width="26.70" height="14.40" fill="#ececf8"/>
<rect x="512.00" y="254.20" width="26.70" height="14.40" fill="#b0b0e6"/>
<rect x="380.50" y="268.20" width="26.70" height="14.40" fill="#f095b0"/>
<rect x="406.80" y="268.20" width="26.70" height="14.40" fill="#f0b0c4"/>
<rect x="433.10" y="268.20" width="26.70" height="14.40" fill="#f2c4d2"/>
<rect x="459.40" y="268.20" width="26.70" height="14.40" fill="#c4c2ec"/>
<rect x="485.70" y="268.20" width="26.70" height="14.40" fill="#f5f4fa"/>
<rect x="512.00" y="268.20" width="26.70" height="14.40" fill="#aaa6e2"/>
<rect x="380.50" y="282.20" width="26.70" height="14.40" fill="#f2b5c8"/>
<rect x="406.80" y="282.20" width="26.70" height="14.40" fill="#f098b4"/>
<rect x="433.10" y="282.20" width="26.70" height="14.40" fill="#f2c4d2"/>
<rect x="459.40" y="282.20" width="26.70" height="14.40" fill="#c4c2ec"/>
<rect x="485.70" y="282.20" width="26.70" height="14.40" fill="#d2d2f0"/>
<rect x="512.00" y="282.20" width="26.70" height="14.40" fill="#c4c2ec"/>
<rect x="380.50" y="296.20" width="26.70" height="14.40" fill="#ee90ae"/>
<rect x="406.80" y="296.20" width="26.70" height="14.40" fill="#f0b0c4"/>
<rect x="433.10" y="296.20" width="26.70" height="14.40" fill="#f2c8d6"/>
<rect x="459.40" y="296.20" width="26.70" height="14.40" fill="#dcdcf2"/>
<rect x="485.70" y="296.20" width="26.70" height="14.40" fill="#dcdcf2"/>
<rect x="512.00" y="296.20" width="26.70" height="14.40" fill="#a8a6e2"/>
<rect x="380.50" y="310.20" width="26.70" height="14.40" fill="#ee94b0"/>
<rect x="406.80" y="310.20" width="26.70" height="14.40" fill="#f0a8c0"/>
<rect x="433.10" y="310.20" width="26.70" height="14.40" fill="#f5d0dc"/>
<rect x="459.40" y="310.20" width="26.70" height="14.40" fill="#e0e0f4"/>
<rect x="485.70" y="310.20" width="26.70" height="14.40" fill="#c4c2ec"/>
<rect x="512.00" y="310.20" width="26.70" height="14.40" fill="#aeaee6"/>
<rect x="380.50" y="324.20" width="26.70" height="14.40" fill="#ee8eac"/>
<rect x="406.80" y="324.20" width="26.70" height="14.40" fill="#f6dae2"/>
<rect x="433.10" y="324.20" width="26.70" height="14.40" fill="#f2b8cb"/>
<rect x="459.40" y="324.20" width="26.70" height="14.40" fill="#f8eef4"/>
<rect x="485.70" y="324.20" width="26.70" height="14.40" fill="#d2d2f0"/>
<rect x="512.00" y="324.20" width="26.70" height="14.40" fill="#9290dc"/>
<rect x="380.50" y="338.20" width="26.70" height="14.40" fill="#ee6890"/>
<rect x="406.80" y="338.20" width="26.70" height="14.40" fill="#f2b4c8"/>
<rect x="433.10" y="338.20" width="26.70" height="14.40" fill="#f2f2fa"/>
<rect x="459.40" y="338.20" width="26.70" height="14.40" fill="#e4e4f5"/>
<rect x="485.70" y="338.20" width="26.70" height="14.40" fill="#b0b0e6"/>
<rect x="512.00" y="338.20" width="26.70" height="14.40" fill="#bcbcec"/>
<rect x="380.50" y="352.20" width="26.70" height="14.40" fill="#b0b0e6"/>
<rect x="406.80" y="352.20" width="26.70" height="14.40" fill="#b0b0e6"/>
<rect x="433.10" y="352.20" width="26.70" height="14.40" fill="#dcdcf2"/>
<rect x="459.40" y="352.20" width="26.70" height="14.40" fill="#f23450"/>
<rect x="485.70" y="352.20" width="26.70" height="14.40" fill="#8a86dc"/>
<rect x="512.00" y="352.20" width="26.70" height="14.40" fill="#f2a8c0"/>
<rect x="380.50" y="366.20" width="26.70" height="14.40" fill="#ccccf0"/>
<rect x="406.80" y="366.20" width="26.70" height="14.40" fill="#b8b6ea"/>
<rect x="433.10" y="366.20" width="26.70" height="14.40" fill="#f2c4d2"/>
<rect x="459.40" y="366.20" width="26.70" height="14.40" fill="#f52228"/>
<rect x="485.70" y="366.20" width="26.70" height="14.40" fill="#b0aee6"/>
<rect x="512.00" y="366.20" width="26.70" height="14.40" fill="#ccccf0"/>
<rect x="380.50" y="380.20" width="26.70" height="14.40" fill="#9494dc"/>
<rect x="406.80" y="380.20" width="26.70" height="14.40" fill="#f8eef4"/>
<rect x="433.10" y="380.20" width="26.70" height="14.40" fill="#ee7a9c"/>
<rect x="459.40" y="380.20" width="26.70" height="14.40" fill="#fdfbfd"/>
<rect x="485.70" y="380.20" width="26.70" height="14.40" fill="#f2b8cb"/>
<rect x="512.00" y="380.20" width="26.70" height="14.40" fill="#e6e8f5"/>
<rect x="380.50" y="394.20" width="26.70" height="14.40" fill="#7a6edb"/>
<rect x="406.80" y="394.20" width="26.70" height="14.40" fill="#ccccf0"/>
<rect x="433.10" y="394.20" width="26.70" height="14.40" fill="#f5ccd8"/>
<rect x="459.40" y="394.20" width="26.70" height="14.40" fill="#f6e2e8"/>
<rect x="485.70" y="394.20" width="26.70" height="14.40" fill="#ee6890"/>
<rect x="512.00" y="394.20" width="26.70" height="14.40" fill="#f2b5c8"/>
<rect x="380.50" y="408.20" width="26.70" height="14.40" fill="#7a6edb"/>
<rect x="406.80" y="408.20" width="26.70" height="14.40" fill="#f6e2e8"/>
<rect x="433.10" y="408.20" width="26.70" height="14.40" fill="#f8eef4"/>
<rect x="459.40" y="408.20" width="26.70" height="14.40" fill="#f5ccd8"/>
<rect x="485.70" y="408.20" width="26.70" height="14.40" fill="#f5d5de"/>
<rect x="512.00" y="408.20" width="26.70" height="14.40" fill="#f2b5c8"/>
<rect x="380.50" y="422.20" width="26.70" height="14.40" fill="#f2b0c4"/>
<rect x="406.80" y="422.20" width="26.70" height="14.40" fill="#d8d8f0"/>
<rect x="433.10" y="422.20" width="26.70" height="14.40" fill="#f098b4"/>
<rect x="459.40" y="422.20" width="26.70" height="14.40" fill="#8580dc"/>
<rect x="485.70" y="422.20" width="26.70" height="14.40" fill="#f2f2fa"/>
<rect x="512.00" y="422.20" width="26.70" height="14.40" fill="#fdfbfd"/>
<rect x="380.50" y="436.20" width="26.70" height="14.40" fill="#dcdcf2"/>
<rect x="406.80" y="436.20" width="26.70" height="14.40" fill="#f5c8d6"/>
<rect x="433.10" y="436.20" width="26.70" height="14.40" fill="#f5d0dc"/>
<rect x="459.40" y="436.20" width="26.70" height="14.40" fill="#a8a6e2"/>
<rect x="485.70" y="436.20" width="26.70" height="14.40" fill="#dcdcf2"/>
<rect x="512.00" y="436.20" width="26.70" height="14.40" fill="#f2bcd0"/>
<rect x="380.50" y="450.20" width="26.70" height="14.40" fill="#dcdcf2"/>
<rect x="406.80" y="450.20" width="26.70" height="14.40" fill="#f6e2e8"/>
<rect x="433.10" y="450.20" width="26.70" height="14.40" fill="#f0a4bc"/>
<rect x="459.40" y="450.20" width="26.70" height="14.40" fill="#b8b6ea"/>
<rect x="485.70" y="450.20" width="26.70" height="14.40" fill="#d4d4f0"/>
<rect x="512.00" y="450.20" width="26.70" height="14.40" fill="#f5d0dc"/>
<rect x="380.50" y="464.20" width="26.70" height="14.40" fill="#fdfbfd"/>
<rect x="406.80" y="464.20" width="26.70" height="14.40" fill="#ee90ae"/>
<rect x="433.10" y="464.20" width="26.70" height="14.40" fill="#f2b8cb"/>
<rect x="459.40" y="464.20" width="26.70" height="14.40" fill="#b4b2e8"/>
<rect x="485.70" y="464.20" width="26.70" height="14.40" fill="#ccccf0"/>
<rect x="512.00" y="464.20" width="26.70" height="14.40" fill="#f2f2fa"/>
<rect x="380.50" y="478.20" width="26.70" height="14.40" fill="#fcfcfe"/>
<rect x="406.80" y="478.20" width="26.70" height="14.40" fill="#ee90ae"/>
<rect x="433.10" y="478.20" width="26.70" height="14.40" fill="#f2c4d2"/>
<rect x="459.40" y="478.20" width="26.70" height="14.40" fill="#d8d8f0"/>
<rect x="485.70" y="478.20" width="26.70" height="14.40" fill="#a8a6e2"/>
<rect x="512.00" y="478.20" width="26.70" height="14.40" fill="#f5f4fa"/>
<rect x="380.50" y="492.20" width="26.70" height="14.40" fill="#b4b2e8"/>
<rect x="406.80" y="492.20" width="26.70" height="14.40" fill="#8a86dc"/>
<rect x="433.10" y="492.20" width="26.70" height="14.40" fill="#8a86dc"/>
<rect x="459.40" y="492.20" width="26.70" height="14.40" fill="#d4d4f0"/>
<rect x="485.70" y="492.20" width="26.70" height="14.40" fill="#f52535"/>
<rect x="512.00" y="492.20" width="26.70" height="14.40" fill="#ee7098"/>
<rect x="380.50" y="506.20" width="26.70" height="14.40" fill="#8a86dc"/>
<rect x="406.80" y="506.20" width="26.70" height="14.40" fill="#5d3ee6"/>
<rect x="433.10" y="506.20" width="26.70" height="14.40" fill="#dcdcf2"/>
<rect x="459.40" y="506.20" width="26.70" height="14.40" fill="#ee6088"/>
<rect x="485.70" y="506.20" width="26.70" height="14.40" fill="#ee6088"/>
<rect x="512.00" y="506.20" width="26.70" height="14.40" fill="#ee8aa8"/>
<rect x="380.50" y="520.20" width="26.70" height="14.40" fill="#8a86dc"/>
<rect x="406.80" y="520.20" width="26.70" height="14.40" fill="#6648e2"/>
<rect x="433.10" y="520.20" width="26.70" height="14.40" fill="#acaae6"/>
<rect x="459.40" y="520.20" width="26.70" height="14.40" fill="#ee7098"/>
<rect x="485.70" y="520.20" width="26.70" height="14.40" fill="#ee4a6e"/>
<rect x="512.00" y="520.20" width="26.70" height="14.40" fill="#ee7098"/>
<rect x="380.50" y="534.20" width="26.70" height="14.40" fill="#fdfbfd"/>
<rect x="406.80" y="534.20" width="26.70" height="14.40" fill="#8a86dc"/>
<rect x="433.10" y="534.20" width="26.70" height="14.40" fill="#6648e2"/>
<rect x="459.40" y="534.20" width="26.70" height="14.40" fill="#f8f0f4"/>
<rect x="485.70" y="534.20" width="26.70" height="14.40" fill="#ee88a8"/>
<rect x="512.00" y="534.20" width="26.70" height="14.40" fill="#ee5078"/>
<rect x="380.50" y="548.20" width="26.70" height="14.40" fill="#f5d0dc"/>
<rect x="406.80" y="548.20" width="26.70" height="14.40" fill="#a4a0e0"/>
<rect x="433.10" y="548.20" width="26.70" height="14.40" fill="#7a6edb"/>
<rect x="459.40" y="548.20" width="26.70" height="14.40" fill="#e4e4f5"/>
<rect x="485.70" y="548.20" width="26.70" height="14.40" fill="#fdfbfd"/>
<rect x="512.00" y="548.20" width="26.70" height="14.40" fill="#ee5078"/>
<rect x="380.50" y="562.20" width="26.70" height="14.40" fill="#f5ccd8"/>
<rect x="406.80" y="562.20" width="26.70" height="14.40" fill="#f8e6ec"/>
<rect x="433.10" y="562.20" width="26.70" height="14.40" fill="#6e58e0"/>
<rect x="459.40" y="562.20" width="26.70" height="14.40" fill="#dcdcf2"/>
<rect x="485.70" y="562.20" width="26.70" height="14.40" fill="#d4d4f0"/>
<rect x="512.00" y="562.20" width="26.70" height="14.40" fill="#ee7098"/>
<rect x="380.50" y="576.20" width="26.70" height="14.40" fill="#f0a0b8"/>
<rect x="406.80" y="576.20" width="26.70" height="14.40" fill="#f5c8d6"/>
<rect x="433.10" y="576.20" width="26.70" height="14.40" fill="#8480dc"/>
<rect x="459.40" y="576.20" width="26.70" height="14.40" fill="#f8f2f6"/>
<rect x="485.70" y="576.20" width="26.70" height="14.40" fill="#8078dc"/>
<rect x="512.00" y="576.20" width="26.70" height="14.40" fill="#f2a8c0"/>
<text x="540.00" y="208.50" font-size="9.15" fill="#222">Isocitrate</text>
<text x="540.00" y="222.50" font-size="9.15" fill="#222">Fumarate</text>
<text x="540.00" y="236.50" font-size="9.15" fill="#222">F−1−P</text>
<text x="540.00" y="250.50" font-size="9.15" fill="#222">G−1−P</text>
<text x="540.00" y="264.50" font-size="9.15" fill="#222">3−phosphoglyceric acid</text>
<text x="540.00" y="278.50" font-size="9.15" fill="#222">Pyruvate</text>
<text x="540.00" y="292.50" font-size="9.15" fill="#222">F−1,6-BP</text>
<text x="540.00" y="306.50" font-size="9.15" fill="#222">Lactate</text>
<text x="540.00" y="320.50" font-size="9.15" fill="#222">Ribulose−5−phosphate</text>
<text x="540.00" y="334.50" font-size="9.15" fill="#222">G−6−P</text>
<text x="540.00" y="348.50" font-size="9.15" fill="#222">6−phosphogluconic acid</text>
<text x="540.00" y="362.50" font-size="9.15" fill="#222">Succinate</text>
<text x="540.00" y="376.50" font-size="9.15" fill="#222">Serine</text>
<text x="540.00" y="390.50" font-size="9.15" fill="#222">Acetyl−CoA</text>
<text x="540.00" y="404.50" font-size="9.15" fill="#222">Malate</text>
<text x="540.00" y="418.50" font-size="9.15" fill="#222">a−ketoglutarate</text>
<text x="540.00" y="432.50" font-size="9.15" fill="#222">DHAP</text>
<text x="540.00" y="446.50" font-size="9.15" fill="#222">Glutamic acid</text>
<text x="540.00" y="460.50" font-size="9.15" fill="#222">Aspartic acid</text>
<text x="540.00" y="474.50" font-size="9.15" fill="#222">Citrate</text>
<text x="540.00" y="488.50" font-size="9.15" fill="#222">Erythrose−4−phosphate</text>
<text x="540.00" y="502.50" font-size="9.15" fill="#222">Ribose−5−phosphate</text>
<text x="540.00" y="516.50" font-size="9.15" fill="#222">Oxaloacetic acid</text>
<text x="540.00" y="530.50" font-size="9.15" fill="#222">Hydroxypyruvate</text>
<text x="540.00" y="544.50" font-size="9.15" fill="#222">GAP=GA3P</text>
<text x="540.00" y="558.50" font-size="9.15" fill="#222">ATP</text>
<text x="540.00" y="572.50" font-size="9.15" fill="#222">F−6−P</text>
<text x="540.00" y="586.50" font-size="9.15" fill="#222">Glutamine</text>
<path d="M380.30,205.20 L380.30,219.20 M380.30,205.20 L380.50,205.20 M380.30,219.20 L380.50,219.20 M380.20,247.20 L380.20,261.20 M380.20,247.20 L380.50,247.20 M380.20,261.20 L380.50,261.20 M380.20,275.20 L380.20,289.20 M380.20,275.20 L380.50,275.20 M380.20,289.20 L380.50,289.20 M380.10,254.20 L380.10,282.20 M380.10,254.20 L380.20,254.20 M380.10,282.20 L380.20,282.20 M380.20,303.20 L380.20,317.20 M380.20,303.20 L380.50,303.20 M380.20,317.20 L380.50,317.20 M380.20,331.20 L380.20,345.20 M380.20,331.20 L380.50,331.20 M380.20,345.20 L380.50,345.20 M380.10,310.20 L380.10,338.20 M380.10,310.20 L380.20,310.20 M380.10,338.20 L380.20,338.20 M379.00,279.70 L379.00,317.50 M379.00,279.70 L380.10,279.70 M379.00,317.50 L380.10,317.50 M377.60,233.20 L377.60,298.60 M377.60,233.20 L380.50,233.20 M377.60,298.60 L379.00,298.60 M373.10,212.20 L373.10,265.90 M373.10,212.20 L380.30,212.20 M373.10,265.90 L377.60,265.90 M377.00,359.20 L377.00,373.20 M377.00,359.20 L380.50,359.20 M377.00,373.20 L380.50,373.20 M380.00,401.20 L380.00,415.20 M380.00,401.20 L380.50,401.20 M380.00,415.20 L380.50,415.20 M379.00,387.20 L379.00,408.20 M379.00,387.20 L380.50,387.20 M379.00,408.20 L380.00,408.20 M379.50,429.20 L379.50,443.20 M379.50,429.20 L380.50,429.20 M379.50,443.20 L380.50,443.20 M380.00,457.20 L380.00,471.20 M380.00,457.20 L380.50,457.20 M380.00,471.20 L380.50,471.20 M379.50,464.20 L379.50,485.20 M379.50,464.20 L380.00,464.20 M379.50,485.20 L380.50,485.20 M378.50,436.20 L378.50,474.70 M378.50,436.20 L379.50,436.20 M378.50,474.70 L379.50,474.70 M370.40,397.70 L370.40,455.45 M370.40,397.70 L379.00,397.70 M370.40,455.45 L378.50,455.45 M367.20,366.20 L367.20,426.57 M367.20,366.20 L377.00,366.20 M367.20,426.57 L370.40,426.57 M380.00,513.20 L380.00,527.20 M380.00,513.20 L380.50,513.20 M380.00,527.20 L380.50,527.20 M376.20,499.20 L376.20,520.20 M376.20,499.20 L380.50,499.20 M376.20,520.20 L380.00,520.20 M379.50,541.20 L379.50,555.20 M379.50,541.20 L380.50,541.20 M379.50,555.20 L380.50,555.20 M380.00,569.20 L380.00,583.20 M380.00,569.20 L380.50,569.20 M380.00,583.20 L380.50,583.20 M371.80,548.20 L371.80,576.20 M371.80,548.20 L379.50,548.20 M371.80,576.20 L380.00,576.20 M363.50,509.70 L363.50,562.20 M363.50,509.70 L376.20,509.70 M363.50,562.20 L371.80,562.20 M360.30,396.39 L360.30,535.95 M360.30,396.39 L367.20,396.39 M360.30,535.95 L363.50,535.95 M354.60,239.05 L354.60,466.17 M354.60,239.05 L373.10,239.05 M354.60,466.17 L360.30,466.17" fill="none" stroke="#3a3a3a" stroke-width="0.8"/>
<defs><linearGradient id="cb" x1="0" y1="0" x2="0" y2="1"><stop offset="0" stop-color="#f52030"/><stop offset="0.17" stop-color="#ea4a6c"/><stop offset="0.33" stop-color="#eea0b8"/><stop offset="0.5" stop-color="#fbf8fb"/><stop offset="0.67" stop-color="#c4c2ee"/><stop offset="0.83" stop-color="#7f74de"/><stop offset="1" stop-color="#4a20f8"/></linearGradient></defs>
<rect x="641.10" y="198.10" width="5.00" height="75.90" fill="url(#cb)" />
<text x="648.00" y="212.70" font-size="8.5" fill="#222">2</text>
<text x="648.00" y="226.00" font-size="8.5" fill="#222">1</text>
<text x="648.00" y="239.30" font-size="8.5" fill="#222">0</text>
<text x="648.00" y="252.60" font-size="8.5" fill="#222">−1</text>
<text x="648.00" y="265.90" font-size="8.5" fill="#222">−2</text>
<text x="1.80" y="614.00" font-size="10.8" font-weight="bold" fill="#111">D</text>
<text x="115.90" y="621.20" font-size="10" textLength="23.50" lengthAdjust="spacingAndGlyphs">A549</text>
<text x="0" y="0" font-size="10.6" text-anchor="middle" fill="#231f20" transform="translate(20.00,688.50) rotate(-90)" textLength="135" lengthAdjust="spacingAndGlyphs">Concentration (pmol/10<tspan font-size="6.4" dy="-3.5">6</tspan><tspan dy="3.5"> cells)</tspan></text>
<line x1="48.80" y1="638.30" x2="48.80" y2="681.80" stroke="#231f20" stroke-width="1.1"/>
<line x1="48.80" y1="689.60" x2="48.80" y2="742.80" stroke="#231f20" stroke-width="1.1"/>
<line x1="46.60" y1="681.80" x2="51.00" y2="681.80" stroke="#231f20" stroke-width="1.1"/>
<line x1="46.60" y1="689.60" x2="51.00" y2="689.60" stroke="#231f20" stroke-width="1.1"/>
<line x1="45.60" y1="638.30" x2="48.80" y2="638.30" stroke="#231f20" stroke-width="1.1"/>
<text x="44.60" y="641.00" font-size="7.7" text-anchor="end">12000</text>
<line x1="45.60" y1="654.50" x2="48.80" y2="654.50" stroke="#231f20" stroke-width="1.1"/>
<text x="44.60" y="657.20" font-size="7.7" text-anchor="end">9000</text>
<line x1="45.60" y1="671.30" x2="48.80" y2="671.30" stroke="#231f20" stroke-width="1.1"/>
<text x="44.60" y="674.00" font-size="7.7" text-anchor="end">6000</text>
<line x1="45.60" y1="689.60" x2="48.80" y2="689.60" stroke="#231f20" stroke-width="1.1"/>
<text x="44.60" y="692.30" font-size="7.7" text-anchor="end">450</text>
<line x1="45.60" y1="707.40" x2="48.80" y2="707.40" stroke="#231f20" stroke-width="1.1"/>
<text x="44.60" y="710.10" font-size="7.7" text-anchor="end">300</text>
<line x1="45.60" y1="725.30" x2="48.80" y2="725.30" stroke="#231f20" stroke-width="1.1"/>
<text x="44.60" y="728.00" font-size="7.7" text-anchor="end">150</text>
<line x1="45.60" y1="742.80" x2="48.80" y2="742.80" stroke="#231f20" stroke-width="1.1"/>
<text x="44.60" y="745.50" font-size="7.7" text-anchor="end">0</text>
<path d="M56.40,742.80 V737.30 H65.70 V742.80" fill="none" stroke="#4646ff" stroke-width="1.0"/>
<circle cx="59.05" cy="735.50" r="1.2" fill="#4646ff"/>
<circle cx="61.55" cy="737.20" r="1.2" fill="#4646ff"/>
<circle cx="63.55" cy="736.40" r="1.2" fill="#4646ff"/>
<path d="M71.10,742.80 V736.30 H80.60 V742.80" fill="none" stroke="#ff4646" stroke-width="1.0"/>
<circle cx="73.85" cy="737.50" r="1.2" fill="#ff4646"/>
<circle cx="76.35" cy="734.60" r="1.2" fill="#ff4646"/>
<circle cx="78.35" cy="736.80" r="1.2" fill="#ff4646"/>
<path d="M95.50,742.80 V689.60 M105.30,742.80 V689.60 M95.50,681.80 V651.80 H105.30 V681.80" fill="none" stroke="#4646ff" stroke-width="1.0"/>
<path d="M100.40,647.40 V656.50 M98.00,647.40 H102.80 M98.00,656.50 H102.80" fill="none" stroke="#4646ff" stroke-width="1.0"/>
<circle cx="100.40" cy="643.10" r="1.2" fill="#4646ff"/>
<circle cx="100.40" cy="655.20" r="1.2" fill="#4646ff"/>
<circle cx="100.40" cy="656.40" r="1.2" fill="#4646ff"/>
<path d="M110.20,742.80 V689.60 M120.70,742.80 V689.60 M110.20,681.80 V672.20 H120.70 V681.80" fill="none" stroke="#ff4646" stroke-width="1.0"/>
<path d="M115.45,667.60 V676.50 M113.05,667.60 H117.85 M113.05,676.50 H117.85" fill="none" stroke="#ff4646" stroke-width="1.0"/>
<circle cx="115.45" cy="663.00" r="1.2" fill="#ff4646"/>
<circle cx="115.45" cy="675.50" r="1.2" fill="#ff4646"/>
<circle cx="115.45" cy="676.30" r="1.2" fill="#ff4646"/>
<path d="M135.30,742.80 V703.20 H144.80 V742.80" fill="none" stroke="#4646ff" stroke-width="1.0"/>
<path d="M140.05,700.00 V706.40 M137.65,700.00 H142.45 M137.65,706.40 H142.45" fill="none" stroke="#4646ff" stroke-width="1.0"/>
<circle cx="140.05" cy="698.80" r="1.2" fill="#4646ff"/>
<circle cx="140.05" cy="704.70" r="1.2" fill="#4646ff"/>
<circle cx="140.05" cy="706.90" r="1.2" fill="#4646ff"/>
<path d="M149.90,742.80 V740.60 H159.40 V742.80" fill="none" stroke="#ff4646" stroke-width="1.0"/>
<circle cx="151.65" cy="740.60" r="1.2" fill="#ff4646"/>
<circle cx="154.65" cy="740.60" r="1.2" fill="#ff4646"/>
<circle cx="157.65" cy="740.60" r="1.2" fill="#ff4646"/>
<path d="M174.30,742.80 V714.20 H184.20 V742.80" fill="none" stroke="#4646ff" stroke-width="1.0"/>
<path d="M179.25,712.00 V716.40 M176.85,712.00 H181.65 M176.85,716.40 H181.65" fill="none" stroke="#4646ff" stroke-width="1.0"/>
<circle cx="177.75" cy="711.80" r="1.2" fill="#4646ff"/>
<circle cx="180.75" cy="712.30" r="1.2" fill="#4646ff"/>
<circle cx="179.25" cy="716.40" r="1.2" fill="#4646ff"/>
<path d="M189.30,742.80 V705.40 H198.80 V742.80" fill="none" stroke="#ff4646" stroke-width="1.0"/>
<path d="M194.05,700.00 V710.80 M191.65,700.00 H196.45 M191.65,710.80 H196.45" fill="none" stroke="#ff4646" stroke-width="1.0"/>
<circle cx="194.05" cy="694.50" r="1.2" fill="#ff4646"/>
<circle cx="194.05" cy="708.50" r="1.2" fill="#ff4646"/>
<circle cx="194.05" cy="710.00" r="1.2" fill="#ff4646"/>
<line x1="48.80" y1="742.80" x2="206.90" y2="742.80" stroke="#231f20" stroke-width="1.1"/>
<line x1="68.20" y1="742.80" x2="68.20" y2="745.40" stroke="#231f20" stroke-width="1.1"/>
<line x1="107.40" y1="742.80" x2="107.40" y2="745.40" stroke="#231f20" stroke-width="1.1"/>
<line x1="147.30" y1="742.80" x2="147.30" y2="745.40" stroke="#231f20" stroke-width="1.1"/>
<line x1="186.40" y1="742.80" x2="186.40" y2="745.40" stroke="#231f20" stroke-width="1.1"/>
<line x1="101.00" y1="638.80" x2="115.60" y2="638.80" stroke="#444" stroke-width="1.0"/>
<text x="108.30" y="641.40" font-size="11" text-anchor="middle">*</text>
<line x1="141.20" y1="693.20" x2="155.50" y2="693.20" stroke="#444" stroke-width="1.0"/>
<text x="148.35" y="691.70" font-size="8.5" text-anchor="middle">#</text>
<rect x="139.30" y="649.20" width="11.40" height="5.40" fill="none" stroke="#4646ff" stroke-width="1" />
<rect x="139.30" y="661.60" width="11.40" height="5.40" fill="none" stroke="#ff4646" stroke-width="1" />
<text x="157.10" y="654.80" font-size="8.5">NC</text>
<text x="157.10" y="667.30" font-size="8.5"><tspan font-style="italic">AKR1B1</tspan>-KO</text>
<text x="0" y="0" font-size="10.4" text-anchor="end" fill="#231f20" transform="translate(69.10,752.00) rotate(-45)"><tspan font-size="6.24" dy="-3.6">13</tspan><tspan dy="3.6">C</tspan><tspan font-size="6.45" dy="1.4">6</tspan><tspan dy="-1.4">-glucose</tspan></text>
<text x="0" y="0" font-size="10.4" text-anchor="end" fill="#231f20" transform="translate(108.30,752.00) rotate(-45)"><tspan font-size="6.24" dy="-3.6">13</tspan><tspan dy="3.6">C</tspan><tspan font-size="6.45" dy="1.4">3</tspan><tspan dy="-1.4">-lactate</tspan></text>
<text x="0" y="0" font-size="10.4" text-anchor="end" fill="#231f20" transform="translate(148.20,752.00) rotate(-45)"><tspan font-size="6.24" dy="-3.6">13</tspan><tspan dy="3.6">C</tspan><tspan font-size="6.45" dy="1.4">6</tspan><tspan dy="-1.4">-fructose</tspan></text>
<text x="0" y="0" font-size="10.4" text-anchor="end" fill="#231f20" transform="translate(187.30,752.00) rotate(-45)"><tspan font-size="6.24" dy="-3.6">13</tspan><tspan dy="3.6">C</tspan><tspan font-size="6.45" dy="1.4">3</tspan><tspan dy="-1.4">-pyruvate</tspan></text>
<text x="121.40" y="814.00" font-size="10" textLength="16.60" lengthAdjust="spacingAndGlyphs">U87</text>
<text x="0" y="0" font-size="10.6" text-anchor="middle" fill="#231f20" transform="translate(20.70,879.00) rotate(-90)" textLength="136" lengthAdjust="spacingAndGlyphs">Concentration (pmol/10<tspan font-size="6.4" dy="-3.5">6</tspan><tspan dy="3.5"> cells)</tspan></text>
<line x1="50.00" y1="826.30" x2="50.00" y2="866.20" stroke="#231f20" stroke-width="1.1"/>
<line x1="50.00" y1="873.90" x2="50.00" y2="932.30" stroke="#231f20" stroke-width="1.1"/>
<line x1="47.80" y1="866.20" x2="52.20" y2="866.20" stroke="#231f20" stroke-width="1.1"/>
<line x1="47.80" y1="873.90" x2="52.20" y2="873.90" stroke="#231f20" stroke-width="1.1"/>
<line x1="46.80" y1="838.90" x2="50.00" y2="838.90" stroke="#231f20" stroke-width="1.1"/>
<text x="45.80" y="841.60" font-size="7.7" text-anchor="end">6000</text>
<line x1="46.80" y1="856.90" x2="50.00" y2="856.90" stroke="#231f20" stroke-width="1.1"/>
<text x="45.80" y="859.60" font-size="7.7" text-anchor="end">4000</text>
<line x1="46.80" y1="873.90" x2="50.00" y2="873.90" stroke="#231f20" stroke-width="1.1"/>
<text x="45.80" y="876.60" font-size="7.7" text-anchor="end">100</text>
<line x1="46.80" y1="888.50" x2="50.00" y2="888.50" stroke="#231f20" stroke-width="1.1"/>
<text x="45.80" y="891.20" font-size="7.7" text-anchor="end">75</text>
<line x1="46.80" y1="903.00" x2="50.00" y2="903.00" stroke="#231f20" stroke-width="1.1"/>
<text x="45.80" y="905.70" font-size="7.7" text-anchor="end">50</text>
<line x1="46.80" y1="917.70" x2="50.00" y2="917.70" stroke="#231f20" stroke-width="1.1"/>
<text x="45.80" y="920.40" font-size="7.7" text-anchor="end">25</text>
<line x1="46.80" y1="932.30" x2="50.00" y2="932.30" stroke="#231f20" stroke-width="1.1"/>
<text x="45.80" y="935.00" font-size="7.7" text-anchor="end">0</text>
<path d="M57.30,932.30 V918.30 H67.00 V932.30" fill="none" stroke="#4646ff" stroke-width="1.0"/>
<circle cx="60.15" cy="918.50" r="1.2" fill="#4646ff"/>
<circle cx="62.15" cy="915.80" r="1.2" fill="#4646ff"/>
<circle cx="64.65" cy="918.60" r="1.2" fill="#4646ff"/>
<path d="M72.20,932.30 V912.50 H81.80 V932.30" fill="none" stroke="#ff4646" stroke-width="1.0"/>
<circle cx="77.00" cy="910.00" r="1.2" fill="#ff4646"/>
<circle cx="77.00" cy="913.00" r="1.2" fill="#ff4646"/>
<circle cx="77.00" cy="916.80" r="1.2" fill="#ff4646"/>
<path d="M96.70,932.30 V873.90 M106.40,932.30 V873.90 M96.70,866.20 V835.40 H106.40 V866.20" fill="none" stroke="#4646ff" stroke-width="1.0"/>
<path d="M101.55,832.40 V838.20 M99.15,832.40 H103.95 M99.15,838.20 H103.95" fill="none" stroke="#4646ff" stroke-width="1.0"/>
<circle cx="101.55" cy="829.80" r="1.2" fill="#4646ff"/>
<circle cx="101.55" cy="834.50" r="1.2" fill="#4646ff"/>
<circle cx="101.55" cy="841.20" r="1.2" fill="#4646ff"/>
<path d="M111.30,932.30 V873.90 M121.40,932.30 V873.90 M111.30,866.20 V856.40 H121.40 V866.20" fill="none" stroke="#ff4646" stroke-width="1.0"/>
<path d="M116.35,853.30 V859.50 M113.95,853.30 H118.75 M113.95,859.50 H118.75" fill="none" stroke="#ff4646" stroke-width="1.0"/>
<circle cx="115.35" cy="852.20" r="1.2" fill="#ff4646"/>
<circle cx="118.35" cy="854.00" r="1.2" fill="#ff4646"/>
<circle cx="116.35" cy="861.70" r="1.2" fill="#ff4646"/>
<path d="M136.30,932.30 V905.10 H146.40 V932.30" fill="none" stroke="#4646ff" stroke-width="1.0"/>
<path d="M141.35,903.30 V907.00 M138.95,903.30 H143.75 M138.95,907.00 H143.75" fill="none" stroke="#4646ff" stroke-width="1.0"/>
<circle cx="139.85" cy="906.00" r="1.2" fill="#4646ff"/>
<circle cx="141.35" cy="902.50" r="1.2" fill="#4646ff"/>
<circle cx="143.35" cy="905.00" r="1.2" fill="#4646ff"/>
<path d="M151.20,932.30 V929.30 H161.20 V932.30" fill="none" stroke="#ff4646" stroke-width="1.0"/>
<circle cx="153.70" cy="929.50" r="1.2" fill="#ff4646"/>
<circle cx="156.20" cy="928.60" r="1.2" fill="#ff4646"/>
<circle cx="158.70" cy="929.50" r="1.2" fill="#ff4646"/>
<path d="M176.20,932.30 V885.30 H185.70 V932.30" fill="none" stroke="#4646ff" stroke-width="1.0"/>
<path d="M180.95,881.00 V889.60 M178.55,881.00 H183.35 M178.55,889.60 H183.35" fill="none" stroke="#4646ff" stroke-width="1.0"/>
<circle cx="180.95" cy="878.80" r="1.2" fill="#4646ff"/>
<circle cx="180.95" cy="884.00" r="1.2" fill="#4646ff"/>
<circle cx="180.95" cy="890.20" r="1.2" fill="#4646ff"/>
<path d="M191.00,932.30 V903.70 H200.80 V932.30" fill="none" stroke="#ff4646" stroke-width="1.0"/>
<path d="M195.90,900.30 V907.20 M193.50,900.30 H198.30 M193.50,907.20 H198.30" fill="none" stroke="#ff4646" stroke-width="1.0"/>
<circle cx="195.90" cy="899.90" r="1.2" fill="#ff4646"/>
<circle cx="195.90" cy="904.00" r="1.2" fill="#ff4646"/>
<circle cx="195.90" cy="909.50" r="1.2" fill="#ff4646"/>
<line x1="50.00" y1="932.30" x2="208.60" y2="932.30" stroke="#231f20" stroke-width="1.1"/>
<line x1="69.20" y1="932.30" x2="69.20" y2="934.90" stroke="#231f20" stroke-width="1.1"/>
<line x1="108.50" y1="932.30" x2="108.50" y2="934.90" stroke="#231f20" stroke-width="1.1"/>
<line x1="148.20" y1="932.30" x2="148.20" y2="934.90" stroke="#231f20" stroke-width="1.1"/>
<line x1="188.00" y1="932.30" x2="188.00" y2="934.90" stroke="#231f20" stroke-width="1.1"/>
<line x1="102.00" y1="827.20" x2="116.90" y2="827.20" stroke="#444" stroke-width="1.0"/>
<text x="109.45" y="829.80" font-size="11" text-anchor="middle">*</text>
<line x1="141.50" y1="898.10" x2="156.40" y2="898.10" stroke="#444" stroke-width="1.0"/>
<text x="148.95" y="896.60" font-size="8.5" text-anchor="middle">#</text>
<line x1="181.00" y1="876.70" x2="195.30" y2="876.70" stroke="#444" stroke-width="1.0"/>
<text x="188.15" y="879.30" font-size="11" text-anchor="middle">*</text>
<rect x="140.10" y="831.20" width="11.40" height="5.40" fill="none" stroke="#4646ff" stroke-width="1" />
<rect x="140.10" y="843.40" width="11.40" height="5.40" fill="none" stroke="#ff4646" stroke-width="1" />
<text x="157.90" y="836.80" font-size="8.5">NC</text>
<text x="157.90" y="849.10" font-size="8.5"><tspan font-style="italic">AKR1B1</tspan>-KO</text>
<text x="0" y="0" font-size="10.4" text-anchor="end" fill="#231f20" transform="translate(70.10,941.50) rotate(-45)"><tspan font-size="6.24" dy="-3.6">13</tspan><tspan dy="3.6">C</tspan><tspan font-size="6.45" dy="1.4">6</tspan><tspan dy="-1.4">-glucose</tspan></text>
<text x="0" y="0" font-size="10.4" text-anchor="end" fill="#231f20" transform="translate(109.40,941.50) rotate(-45)"><tspan font-size="6.24" dy="-3.6">13</tspan><tspan dy="3.6">C</tspan><tspan font-size="6.45" dy="1.4">3</tspan><tspan dy="-1.4">-lactate</tspan></text>
<text x="0" y="0" font-size="10.4" text-anchor="end" fill="#231f20" transform="translate(149.10,941.50) rotate(-45)"><tspan font-size="6.24" dy="-3.6">13</tspan><tspan dy="3.6">C</tspan><tspan font-size="6.45" dy="1.4">6</tspan><tspan dy="-1.4">-fructose</tspan></text>
<text x="0" y="0" font-size="10.4" text-anchor="end" fill="#231f20" transform="translate(188.90,941.50) rotate(-45)"><tspan font-size="6.24" dy="-3.6">13</tspan><tspan dy="3.6">C</tspan><tspan font-size="6.45" dy="1.4">3</tspan><tspan dy="-1.4">-pyruvate</tspan></text>
<text x="241.10" y="614.00" font-size="10.8" font-weight="bold" fill="#111">E</text>
<text x="341.90" y="621.40" font-size="9.7" textLength="34.50" lengthAdjust="spacingAndGlyphs">HCT116</text>
<text x="0" y="0" font-size="10.6" text-anchor="middle" fill="#231f20" transform="translate(260.90,689.00) rotate(-90)" textLength="134.5" lengthAdjust="spacingAndGlyphs">Concentration (pmol/10<tspan font-size="6.4" dy="-3.5">6</tspan><tspan dy="3.5"> cells)</tspan></text>
<line x1="280.70" y1="638.20" x2="280.70" y2="677.10" stroke="#231f20" stroke-width="1.1"/>
<line x1="280.70" y1="685.50" x2="280.70" y2="743.70" stroke="#231f20" stroke-width="1.1"/>
<line x1="278.50" y1="677.10" x2="282.90" y2="677.10" stroke="#231f20" stroke-width="1.1"/>
<line x1="278.50" y1="685.50" x2="282.90" y2="685.50" stroke="#231f20" stroke-width="1.1"/>
<line x1="277.50" y1="646.10" x2="280.70" y2="646.10" stroke="#231f20" stroke-width="1.1"/>
<text x="276.50" y="648.80" font-size="7.9" text-anchor="end">25</text>
<line x1="277.50" y1="658.30" x2="280.70" y2="658.30" stroke="#231f20" stroke-width="1.1"/>
<text x="276.50" y="661.00" font-size="7.9" text-anchor="end">20</text>
<line x1="277.50" y1="670.60" x2="280.70" y2="670.60" stroke="#231f20" stroke-width="1.1"/>
<text x="276.50" y="673.30" font-size="7.9" text-anchor="end">15</text>
<line x1="277.50" y1="693.70" x2="280.70" y2="693.70" stroke="#231f20" stroke-width="1.1"/>
<text x="276.50" y="696.40" font-size="7.9" text-anchor="end">6</text>
<line x1="277.50" y1="710.40" x2="280.70" y2="710.40" stroke="#231f20" stroke-width="1.1"/>
<text x="276.50" y="713.10" font-size="7.9" text-anchor="end">4</text>
<line x1="277.50" y1="727.00" x2="280.70" y2="727.00" stroke="#231f20" stroke-width="1.1"/>
<text x="276.50" y="729.70" font-size="7.9" text-anchor="end">2</text>
<line x1="277.50" y1="743.70" x2="280.70" y2="743.70" stroke="#231f20" stroke-width="1.1"/>
<text x="276.50" y="746.40" font-size="7.9" text-anchor="end">0</text>
<rect x="285.40" y="720.90" width="10.00" height="7.90" fill="none" stroke="#7a7a7a" stroke-width="0.9"/>
<line x1="285.40" y1="724.40" x2="295.40" y2="724.40" stroke="#7a7a7a" stroke-width="0.9"/>
<circle cx="289.40" cy="721.20" r="1.1" fill="#7a7a7a"/>
<circle cx="291.90" cy="722.40" r="1.1" fill="#7a7a7a"/>
<circle cx="290.40" cy="728.50" r="1.1" fill="#7a7a7a"/>
<rect x="300.30" y="703.40" width="10.50" height="5.60" fill="none" stroke="#4a90f0" stroke-width="0.9"/>
<line x1="300.30" y1="706.00" x2="310.80" y2="706.00" stroke="#4a90f0" stroke-width="0.9"/>
<circle cx="305.55" cy="703.60" r="1.1" fill="#4a90f0"/>
<circle cx="303.55" cy="708.40" r="1.1" fill="#4a90f0"/>
<circle cx="307.55" cy="708.60" r="1.1" fill="#4a90f0"/>
<rect x="326.30" y="665.20" width="10.30" height="11.50" fill="none" stroke="#7a7a7a" stroke-width="0.9"/>
<line x1="326.30" y1="669.20" x2="336.60" y2="669.20" stroke="#7a7a7a" stroke-width="0.9"/>
<circle cx="330.45" cy="665.50" r="1.1" fill="#7a7a7a"/>
<circle cx="333.45" cy="667.00" r="1.1" fill="#7a7a7a"/>
<circle cx="331.45" cy="676.50" r="1.1" fill="#7a7a7a"/>
<rect x="341.40" y="641.70" width="10.00" height="11.70" fill="none" stroke="#4a90f0" stroke-width="0.9"/>
<line x1="341.40" y1="647.30" x2="351.40" y2="647.30" stroke="#4a90f0" stroke-width="0.9"/>
<circle cx="346.40" cy="642.00" r="1.1" fill="#4a90f0"/>
<circle cx="346.40" cy="652.00" r="1.1" fill="#4a90f0"/>
<circle cx="346.40" cy="653.00" r="1.1" fill="#4a90f0"/>
<rect x="366.80" y="741.20" width="9.60" height="1.00" fill="none" stroke="#7a7a7a" stroke-width="0.9"/>
<line x1="366.80" y1="741.60" x2="376.40" y2="741.60" stroke="#7a7a7a" stroke-width="0.9"/>
<circle cx="368.60" cy="741.60" r="1.1" fill="#7a7a7a"/>
<circle cx="371.60" cy="741.60" r="1.1" fill="#7a7a7a"/>
<circle cx="374.60" cy="741.60" r="1.1" fill="#7a7a7a"/>
<rect x="382.20" y="691.10" width="10.00" height="6.70" fill="none" stroke="#4a90f0" stroke-width="0.9"/>
<line x1="382.20" y1="694.00" x2="392.20" y2="694.00" stroke="#4a90f0" stroke-width="0.9"/>
<circle cx="385.20" cy="691.30" r="1.1" fill="#4a90f0"/>
<circle cx="389.20" cy="691.30" r="1.1" fill="#4a90f0"/>
<circle cx="387.20" cy="697.60" r="1.1" fill="#4a90f0"/>
<rect x="408.00" y="726.50" width="9.60" height="2.30" fill="none" stroke="#7a7a7a" stroke-width="0.9"/>
<line x1="408.00" y1="727.60" x2="417.60" y2="727.60" stroke="#7a7a7a" stroke-width="0.9"/>
<circle cx="411.30" cy="727.60" r="1.1" fill="#7a7a7a"/>
<circle cx="414.30" cy="727.60" r="1.1" fill="#7a7a7a"/>
<rect x="422.90" y="720.00" width="9.60" height="4.00" fill="none" stroke="#4a90f0" stroke-width="0.9"/>
<line x1="422.90" y1="722.00" x2="432.50" y2="722.00" stroke="#4a90f0" stroke-width="0.9"/>
<circle cx="425.70" cy="720.20" r="1.1" fill="#4a90f0"/>
<circle cx="429.70" cy="721.00" r="1.1" fill="#4a90f0"/>
<circle cx="427.70" cy="723.80" r="1.1" fill="#4a90f0"/>
<line x1="280.70" y1="743.70" x2="438.30" y2="743.70" stroke="#231f20" stroke-width="1.1"/>
<line x1="298.20" y1="743.70" x2="298.20" y2="746.30" stroke="#231f20" stroke-width="1.1"/>
<line x1="338.40" y1="743.70" x2="338.40" y2="746.30" stroke="#231f20" stroke-width="1.1"/>
<line x1="379.60" y1="743.70" x2="379.60" y2="746.30" stroke="#231f20" stroke-width="1.1"/>
<line x1="420.20" y1="743.70" x2="420.20" y2="746.30" stroke="#231f20" stroke-width="1.1"/>
<line x1="294.20" y1="699.00" x2="306.50" y2="699.00" stroke="#444" stroke-width="1.0"/>
<text x="300.35" y="701.60" font-size="11" text-anchor="middle">*</text>
<line x1="332.60" y1="638.20" x2="345.80" y2="638.20" stroke="#444" stroke-width="1.0"/>
<text x="339.20" y="640.80" font-size="11" text-anchor="middle">*</text>
<line x1="373.40" y1="688.00" x2="386.40" y2="688.00" stroke="#444" stroke-width="1.0"/>
<text x="379.90" y="690.60" font-size="11" text-anchor="middle">*</text>
<line x1="412.00" y1="716.50" x2="425.10" y2="716.50" stroke="#444" stroke-width="1.0"/>
<text x="418.55" y="719.10" font-size="11" text-anchor="middle">*</text>
<rect x="373.40" y="643.40" width="11.40" height="5.30" fill="none" stroke="#7a7a7a" stroke-width="1" />
<rect x="373.40" y="657.50" width="11.40" height="5.30" fill="none" stroke="#4a90f0" stroke-width="1" />
<text x="390.40" y="648.90" font-size="8.5">NC</text>
<text x="390.40" y="663.10" font-size="8.5"><tspan font-style="italic">AKR1B1</tspan>-OE</text>
<text x="0" y="0" font-size="10.4" text-anchor="end" fill="#231f20" transform="translate(299.10,752.90) rotate(-45)"><tspan font-size="6.24" dy="-3.6">13</tspan><tspan dy="3.6">C</tspan><tspan font-size="6.45" dy="1.4">6</tspan><tspan dy="-1.4">-glucose</tspan></text>
<text x="0" y="0" font-size="10.4" text-anchor="end" fill="#231f20" transform="translate(339.30,752.90) rotate(-45)"><tspan font-size="6.24" dy="-3.6">13</tspan><tspan dy="3.6">C</tspan><tspan font-size="6.45" dy="1.4">3</tspan><tspan dy="-1.4">-lactate</tspan></text>
<text x="0" y="0" font-size="10.4" text-anchor="end" fill="#231f20" transform="translate(380.50,752.90) rotate(-45)"><tspan font-size="6.24" dy="-3.6">13</tspan><tspan dy="3.6">C</tspan><tspan font-size="6.45" dy="1.4">6</tspan><tspan dy="-1.4">-fructose</tspan></text>
<text x="0" y="0" font-size="10.4" text-anchor="end" fill="#231f20" transform="translate(421.10,752.90) rotate(-45)"><tspan font-size="6.24" dy="-3.6">13</tspan><tspan dy="3.6">C</tspan><tspan font-size="6.45" dy="1.4">3</tspan><tspan dy="-1.4">-pyruvate</tspan></text>
<text x="344.40" y="814.00" font-size="9.7" textLength="29.80" lengthAdjust="spacingAndGlyphs">BxPC3</text>
<text x="0" y="0" font-size="10.6" text-anchor="middle" fill="#231f20" transform="translate(261.20,878.70) rotate(-90)" textLength="134.7" lengthAdjust="spacingAndGlyphs">Concentration (pmol/10<tspan font-size="6.4" dy="-3.5">6</tspan><tspan dy="3.5"> cells)</tspan></text>
<line x1="280.10" y1="827.20" x2="280.10" y2="866.60" stroke="#231f20" stroke-width="1.1"/>
<line x1="280.10" y1="874.50" x2="280.10" y2="932.30" stroke="#231f20" stroke-width="1.1"/>
<line x1="277.90" y1="866.60" x2="282.30" y2="866.60" stroke="#231f20" stroke-width="1.1"/>
<line x1="277.90" y1="874.50" x2="282.30" y2="874.50" stroke="#231f20" stroke-width="1.1"/>
<line x1="276.90" y1="827.20" x2="280.10" y2="827.20" stroke="#231f20" stroke-width="1.1"/>
<text x="275.90" y="829.90" font-size="7.9" text-anchor="end">90</text>
<line x1="276.90" y1="850.80" x2="280.10" y2="850.80" stroke="#231f20" stroke-width="1.1"/>
<text x="275.90" y="853.50" font-size="7.9" text-anchor="end">60</text>
<line x1="276.90" y1="874.50" x2="280.10" y2="874.50" stroke="#231f20" stroke-width="1.1"/>
<text x="275.90" y="877.20" font-size="7.9" text-anchor="end">6</text>
<line x1="276.90" y1="893.70" x2="280.10" y2="893.70" stroke="#231f20" stroke-width="1.1"/>
<text x="275.90" y="896.40" font-size="7.9" text-anchor="end">4</text>
<line x1="276.90" y1="913.00" x2="280.10" y2="913.00" stroke="#231f20" stroke-width="1.1"/>
<text x="275.90" y="915.70" font-size="7.9" text-anchor="end">2</text>
<line x1="276.90" y1="932.30" x2="280.10" y2="932.30" stroke="#231f20" stroke-width="1.1"/>
<text x="275.90" y="935.00" font-size="7.9" text-anchor="end">0</text>
<rect x="285.40" y="894.60" width="10.50" height="3.90" fill="none" stroke="#7a7a7a" stroke-width="0.9"/>
<line x1="285.40" y1="896.50" x2="295.90" y2="896.50" stroke="#7a7a7a" stroke-width="0.9"/>
<circle cx="288.65" cy="894.20" r="1.1" fill="#7a7a7a"/>
<circle cx="292.65" cy="894.20" r="1.1" fill="#7a7a7a"/>
<circle cx="290.65" cy="898.80" r="1.1" fill="#7a7a7a"/>
<rect x="300.50" y="895.50" width="10.30" height="9.30" fill="none" stroke="#4a90f0" stroke-width="0.9"/>
<line x1="300.50" y1="897.00" x2="310.80" y2="897.00" stroke="#4a90f0" stroke-width="0.9"/>
<circle cx="305.65" cy="895.20" r="1.1" fill="#4a90f0"/>
<circle cx="307.65" cy="896.80" r="1.1" fill="#4a90f0"/>
<circle cx="305.65" cy="904.50" r="1.1" fill="#4a90f0"/>
<rect x="326.20" y="854.30" width="10.00" height="11.40" fill="none" stroke="#7a7a7a" stroke-width="0.9"/>
<line x1="326.20" y1="859.20" x2="336.20" y2="859.20" stroke="#7a7a7a" stroke-width="0.9"/>
<circle cx="331.20" cy="854.00" r="1.1" fill="#7a7a7a"/>
<circle cx="331.20" cy="859.20" r="1.1" fill="#7a7a7a"/>
<circle cx="331.20" cy="865.50" r="1.1" fill="#7a7a7a"/>
<rect x="341.10" y="832.00" width="10.50" height="15.30" fill="none" stroke="#4a90f0" stroke-width="0.9"/>
<line x1="341.10" y1="839.40" x2="351.60" y2="839.40" stroke="#4a90f0" stroke-width="0.9"/>
<circle cx="346.35" cy="832.20" r="1.1" fill="#4a90f0"/>
<circle cx="346.35" cy="838.00" r="1.1" fill="#4a90f0"/>
<circle cx="346.35" cy="847.00" r="1.1" fill="#4a90f0"/>
<rect x="366.30" y="909.50" width="10.50" height="5.30" fill="none" stroke="#7a7a7a" stroke-width="0.9"/>
<line x1="366.30" y1="912.00" x2="376.80" y2="912.00" stroke="#7a7a7a" stroke-width="0.9"/>
<circle cx="371.55" cy="909.00" r="1.1" fill="#7a7a7a"/>
<circle cx="371.55" cy="914.50" r="1.1" fill="#7a7a7a"/>
<rect x="382.00" y="883.70" width="10.00" height="8.30" fill="none" stroke="#4a90f0" stroke-width="0.9"/>
<line x1="382.00" y1="887.60" x2="392.00" y2="887.60" stroke="#4a90f0" stroke-width="0.9"/>
<circle cx="387.00" cy="883.20" r="1.1" fill="#4a90f0"/>
<circle cx="387.00" cy="887.00" r="1.1" fill="#4a90f0"/>
<circle cx="387.00" cy="892.00" r="1.1" fill="#4a90f0"/>
<rect x="407.40" y="901.30" width="10.20" height="3.80" fill="none" stroke="#7a7a7a" stroke-width="0.9"/>
<line x1="407.40" y1="903.00" x2="417.60" y2="903.00" stroke="#7a7a7a" stroke-width="0.9"/>
<circle cx="410.50" cy="903.00" r="1.1" fill="#7a7a7a"/>
<circle cx="414.50" cy="903.00" r="1.1" fill="#7a7a7a"/>
<rect x="422.30" y="885.80" width="10.60" height="5.30" fill="none" stroke="#4a90f0" stroke-width="0.9"/>
<line x1="422.30" y1="888.50" x2="432.90" y2="888.50" stroke="#4a90f0" stroke-width="0.9"/>
<circle cx="427.60" cy="885.50" r="1.1" fill="#4a90f0"/>
<circle cx="427.60" cy="888.50" r="1.1" fill="#4a90f0"/>
<circle cx="427.60" cy="890.80" r="1.1" fill="#4a90f0"/>
<line x1="280.10" y1="932.30" x2="437.80" y2="932.30" stroke="#231f20" stroke-width="1.1"/>
<line x1="297.70" y1="932.30" x2="297.70" y2="934.90" stroke="#231f20" stroke-width="1.1"/>
<line x1="338.50" y1="932.30" x2="338.50" y2="934.90" stroke="#231f20" stroke-width="1.1"/>
<line x1="379.40" y1="932.30" x2="379.40" y2="934.90" stroke="#231f20" stroke-width="1.1"/>
<line x1="420.20" y1="932.30" x2="420.20" y2="934.90" stroke="#231f20" stroke-width="1.1"/>
<line x1="332.30" y1="829.30" x2="346.00" y2="829.30" stroke="#444" stroke-width="1.0"/>
<text x="339.15" y="831.90" font-size="11" text-anchor="middle">*</text>
<line x1="373.30" y1="879.20" x2="386.40" y2="879.20" stroke="#444" stroke-width="1.0"/>
<text x="379.85" y="881.80" font-size="11" text-anchor="middle">*</text>
<line x1="412.20" y1="882.30" x2="425.80" y2="882.30" stroke="#444" stroke-width="1.0"/>
<text x="419.00" y="884.90" font-size="11" text-anchor="middle">*</text>
<rect x="371.20" y="831.50" width="11.40" height="5.80" fill="none" stroke="#7a7a7a" stroke-width="1" />
<rect x="371.20" y="845.90" width="11.40" height="5.80" fill="none" stroke="#4a90f0" stroke-width="1" />
<text x="389.00" y="837.50" font-size="8.5">NC</text>
<text x="389.00" y="852.00" font-size="8.5"><tspan font-style="italic">AKR1B1</tspan>-OE</text>
<text x="0" y="0" font-size="10.4" text-anchor="end" fill="#231f20" transform="translate(298.60,941.50) rotate(-45)"><tspan font-size="6.24" dy="-3.6">13</tspan><tspan dy="3.6">C</tspan><tspan font-size="6.45" dy="1.4">6</tspan><tspan dy="-1.4">-glucose</tspan></text>
<text x="0" y="0" font-size="10.4" text-anchor="end" fill="#231f20" transform="translate(339.40,941.50) rotate(-45)"><tspan font-size="6.24" dy="-3.6">13</tspan><tspan dy="3.6">C</tspan><tspan font-size="6.45" dy="1.4">3</tspan><tspan dy="-1.4">-lactate</tspan></text>
<text x="0" y="0" font-size="10.4" text-anchor="end" fill="#231f20" transform="translate(380.30,941.50) rotate(-45)"><tspan font-size="6.24" dy="-3.6">13</tspan><tspan dy="3.6">C</tspan><tspan font-size="6.45" dy="1.4">6</tspan><tspan dy="-1.4">-fructose</tspan></text>
<text x="0" y="0" font-size="10.4" text-anchor="end" fill="#231f20" transform="translate(421.10,941.50) rotate(-45)"><tspan font-size="6.24" dy="-3.6">13</tspan><tspan dy="3.6">C</tspan><tspan font-size="6.45" dy="1.4">3</tspan><tspan dy="-1.4">-pyruvate</tspan></text>
<text x="483.10" y="613.70" font-size="10.8" font-weight="bold" fill="#111">F</text>
<text x="568.90" y="621.40" font-size="9.7" textLength="65.80" lengthAdjust="spacingAndGlyphs">A549 xenograft</text>
<text x="0" y="0" font-size="10.6" text-anchor="middle" fill="#231f20" transform="translate(497.00,687.20) rotate(-90)" textLength="102.4" lengthAdjust="spacingAndGlyphs">Concentration (nmol/g)</text>
<line x1="522.40" y1="634.20" x2="522.40" y2="674.50" stroke="#231f20" stroke-width="1.1"/>
<line x1="522.40" y1="681.50" x2="522.40" y2="740.20" stroke="#231f20" stroke-width="1.1"/>
<line x1="519.20" y1="634.20" x2="522.40" y2="634.20" stroke="#231f20" stroke-width="1.1"/>
<text x="518.20" y="636.90" font-size="8.4" text-anchor="end">600</text>
<line x1="519.20" y1="650.50" x2="522.40" y2="650.50" stroke="#231f20" stroke-width="1.1"/>
<text x="518.20" y="653.20" font-size="8.4" text-anchor="end">400</text>
<line x1="519.20" y1="666.20" x2="522.40" y2="666.20" stroke="#231f20" stroke-width="1.1"/>
<text x="518.20" y="668.90" font-size="8.4" text-anchor="end">200</text>
<line x1="519.20" y1="687.10" x2="522.40" y2="687.10" stroke="#231f20" stroke-width="1.1"/>
<text x="518.20" y="689.80" font-size="8.4" text-anchor="end">10</text>
<line x1="519.20" y1="713.50" x2="522.40" y2="713.50" stroke="#231f20" stroke-width="1.1"/>
<text x="518.20" y="716.20" font-size="8.4" text-anchor="end">5</text>
<line x1="519.20" y1="740.20" x2="522.40" y2="740.20" stroke="#231f20" stroke-width="1.1"/>
<text x="518.20" y="742.90" font-size="8.4" text-anchor="end">0</text>
<path d="M519.8,676.8000000000001 L525.0,672.4" stroke="#231f20" stroke-width="1.1"/>
<path d="M519.8,683.6 L525.0,679.1999999999999" stroke="#231f20" stroke-width="1.1"/>
<path d="M535.00,700.10 L533.00,700.10 L532.40,704.00 L531.20,710.00 L530.30,716.80 L531.60,722.70 L530.80,728.00 L530.40,732.00 L531.20,735.50 L533.50,737.00 L536.50,737.00 L538.80,735.50 L539.60,732.00 L539.20,728.00 L538.40,722.70 L539.70,716.80 L538.80,710.00 L537.60,704.00 L537.00,700.10 Z" fill="#6a9cf7" stroke="#1f3fe6" stroke-width="1.0" stroke-linejoin="round"/>
<line x1="531.50" y1="722.30" x2="538.50" y2="722.30" stroke="#222" stroke-width="1" stroke-dasharray="1.8,1"/>
<circle cx="534.40" cy="703.18" r="0.55" fill="#1f3fe6"/>
<circle cx="535.80" cy="709.33" r="0.55" fill="#1f3fe6"/>
<circle cx="534.40" cy="715.48" r="0.55" fill="#1f3fe6"/>
<circle cx="535.80" cy="721.62" r="0.55" fill="#1f3fe6"/>
<circle cx="534.40" cy="727.77" r="0.55" fill="#1f3fe6"/>
<circle cx="535.80" cy="733.92" r="0.55" fill="#1f3fe6"/>
<path d="M549.90,727.60 L546.30,727.60 L546.90,729.50 L548.70,731.50 L546.40,733.50 L544.90,735.00 L546.40,735.80 L553.40,735.80 L554.90,735.00 L553.40,733.50 L551.10,731.50 L552.90,729.50 L553.50,727.60 Z" fill="#f3b0b8" stroke="#ee2636" stroke-width="1.0" stroke-linejoin="round"/>
<line x1="546.40" y1="734.40" x2="553.40" y2="734.40" stroke="#222" stroke-width="1" stroke-dasharray="1.8,1"/>
<circle cx="549.30" cy="729.65" r="0.55" fill="#ee2636"/>
<circle cx="550.70" cy="733.75" r="0.55" fill="#ee2636"/>
<path d="M574.50,640.30 L572.30,640.30 L571.50,645.00 L570.90,652.00 L569.80,657.60 L571.20,662.00 L570.70,666.00 L570.50,669.50 L572.50,671.60 L576.50,671.60 L578.50,669.50 L578.30,666.00 L577.80,662.00 L579.20,657.60 L578.10,652.00 L577.50,645.00 L576.70,640.30 Z" fill="#6a9cf7" stroke="#1f3fe6" stroke-width="1.0" stroke-linejoin="round"/>
<line x1="571.00" y1="657.60" x2="578.00" y2="657.60" stroke="#222" stroke-width="1" stroke-dasharray="1.8,1"/>
<circle cx="573.90" cy="643.43" r="0.55" fill="#1f3fe6"/>
<circle cx="575.30" cy="649.69" r="0.55" fill="#1f3fe6"/>
<circle cx="573.90" cy="655.95" r="0.55" fill="#1f3fe6"/>
<circle cx="575.30" cy="662.21" r="0.55" fill="#1f3fe6"/>
<circle cx="573.90" cy="668.47" r="0.55" fill="#1f3fe6"/>
<path d="M589.60,664.30 L585.20,664.30 L586.10,666.50 L588.10,668.60 L585.80,671.00 L585.20,673.60 L594.00,673.60 L593.40,671.00 L591.10,668.60 L593.10,666.50 L594.00,664.30 Z" fill="#f3b0b8" stroke="#ee2636" stroke-width="1.0" stroke-linejoin="round"/>
<line x1="586.10" y1="670.50" x2="593.10" y2="670.50" stroke="#222" stroke-width="1" stroke-dasharray="1.8,1"/>
<circle cx="589.00" cy="666.62" r="0.55" fill="#ee2636"/>
<circle cx="590.40" cy="671.27" r="0.55" fill="#ee2636"/>
<path d="M614.30,686.10 L612.70,686.10 L612.70,690.00 L612.40,697.00 L612.10,701.00 L612.70,705.00 L612.10,712.00 L610.70,718.00 L609.60,722.60 L609.80,727.00 L611.10,730.00 L612.50,731.00 L616.10,731.00 L617.50,730.00 L618.80,727.00 L619.00,722.60 L617.90,718.00 L616.50,712.00 L615.90,705.00 L616.50,701.00 L616.20,697.00 L615.90,690.00 L615.90,686.10 Z" fill="#6a9cf7" stroke="#1f3fe6" stroke-width="1.0" stroke-linejoin="round"/>
<line x1="610.80" y1="721.50" x2="617.80" y2="721.50" stroke="#222" stroke-width="1" stroke-dasharray="1.8,1"/>
<circle cx="613.70" cy="689.31" r="0.55" fill="#1f3fe6"/>
<circle cx="615.10" cy="695.72" r="0.55" fill="#1f3fe6"/>
<circle cx="613.70" cy="702.14" r="0.55" fill="#1f3fe6"/>
<circle cx="615.10" cy="708.55" r="0.55" fill="#1f3fe6"/>
<circle cx="613.70" cy="714.96" r="0.55" fill="#1f3fe6"/>
<circle cx="615.10" cy="721.38" r="0.55" fill="#1f3fe6"/>
<circle cx="613.70" cy="727.79" r="0.55" fill="#1f3fe6"/>
<path d="M628.80,727.00 L627.90,727.00 L627.40,732.00 L625.30,734.50 L624.10,735.80 L626.30,737.60 L631.30,737.60 L633.50,735.80 L632.30,734.50 L630.20,732.00 L629.70,727.00 Z" fill="#f3b0b8" stroke="#ee2636" stroke-width="1.0" stroke-linejoin="round"/>
<line x1="625.30" y1="735.50" x2="632.30" y2="735.50" stroke="#222" stroke-width="1" stroke-dasharray="1.8,1"/>
<circle cx="628.20" cy="729.65" r="0.55" fill="#ee2636"/>
<circle cx="629.60" cy="734.95" r="0.55" fill="#ee2636"/>
<path d="M653.60,714.00 L652.40,714.00 L652.00,716.00 L652.60,719.00 L651.10,722.00 L649.60,728.00 L648.60,732.70 L649.60,735.50 L652.10,737.00 L655.10,737.00 L657.60,735.50 L658.60,732.70 L657.60,728.00 L656.10,722.00 L654.60,719.00 L655.20,716.00 L654.80,714.00 Z" fill="#6a9cf7" stroke="#1f3fe6" stroke-width="1.0" stroke-linejoin="round"/>
<line x1="650.10" y1="731.50" x2="657.10" y2="731.50" stroke="#222" stroke-width="1" stroke-dasharray="1.8,1"/>
<circle cx="653.00" cy="717.83" r="0.55" fill="#1f3fe6"/>
<circle cx="654.40" cy="725.50" r="0.55" fill="#1f3fe6"/>
<circle cx="653.00" cy="733.17" r="0.55" fill="#1f3fe6"/>
<path d="M668.50,729.00 L666.50,729.00 L665.30,731.50 L664.10,735.10 L665.50,737.50 L667.50,739.50 L669.50,739.50 L671.50,737.50 L672.90,735.10 L671.70,731.50 L670.50,729.00 Z" fill="#f3b0b8" stroke="#ee2636" stroke-width="1.0" stroke-linejoin="round"/>
<line x1="665.00" y1="735.00" x2="672.00" y2="735.00" stroke="#222" stroke-width="1" stroke-dasharray="1.8,1"/>
<circle cx="667.90" cy="731.62" r="0.55" fill="#ee2636"/>
<circle cx="669.30" cy="736.88" r="0.55" fill="#ee2636"/>
<line x1="522.40" y1="740.20" x2="681.30" y2="740.20" stroke="#231f20" stroke-width="1.1"/>
<line x1="541.80" y1="740.20" x2="541.80" y2="742.80" stroke="#231f20" stroke-width="1.1"/>
<line x1="581.60" y1="740.20" x2="581.60" y2="742.80" stroke="#231f20" stroke-width="1.1"/>
<line x1="621.30" y1="740.20" x2="621.30" y2="742.80" stroke="#231f20" stroke-width="1.1"/>
<line x1="661.00" y1="740.20" x2="661.00" y2="742.80" stroke="#231f20" stroke-width="1.1"/>
<line x1="535.20" y1="698.10" x2="548.50" y2="698.10" stroke="#444" stroke-width="1.0"/>
<text x="541.85" y="700.70" font-size="11" text-anchor="middle">*</text>
<line x1="576.90" y1="636.40" x2="590.40" y2="636.40" stroke="#444" stroke-width="1.0"/>
<text x="583.65" y="639.00" font-size="11" text-anchor="middle">*</text>
<line x1="616.10" y1="683.90" x2="629.80" y2="683.90" stroke="#444" stroke-width="1.0"/>
<text x="622.95" y="682.40" font-size="8.5" text-anchor="middle">#</text>
<rect x="610.90" y="640.80" width="10.20" height="6.20" fill="#6a9cf7" stroke="#1f3fe6" stroke-width="1" />
<rect x="610.90" y="651.30" width="10.20" height="6.20" fill="#f3b0b8" stroke="#ee2636" stroke-width="1" />
<text x="626.30" y="647.20" font-size="8.9">NC</text>
<text x="626.30" y="657.80" font-size="8.9"><tspan font-style="italic">AKR1B1</tspan>-KO</text>
<text x="0" y="0" font-size="10.4" text-anchor="end" fill="#231f20" transform="translate(542.70,749.40) rotate(-45)"><tspan font-size="6.24" dy="-3.6">13</tspan><tspan dy="3.6">C</tspan><tspan font-size="6.45" dy="1.4">6</tspan><tspan dy="-1.4">-glucose</tspan></text>
<text x="0" y="0" font-size="10.4" text-anchor="end" fill="#231f20" transform="translate(582.50,749.40) rotate(-45)"><tspan font-size="6.24" dy="-3.6">13</tspan><tspan dy="3.6">C</tspan><tspan font-size="6.45" dy="1.4">3</tspan><tspan dy="-1.4">-lactate</tspan></text>
<text x="0" y="0" font-size="10.4" text-anchor="end" fill="#231f20" transform="translate(622.20,749.40) rotate(-45)"><tspan font-size="6.24" dy="-3.6">13</tspan><tspan dy="3.6">C</tspan><tspan font-size="6.45" dy="1.4">6</tspan><tspan dy="-1.4">-fructose</tspan></text>
<text x="0" y="0" font-size="10.4" text-anchor="end" fill="#231f20" transform="translate(661.90,749.40) rotate(-45)"><tspan font-size="6.24" dy="-3.6">13</tspan><tspan dy="3.6">C</tspan><tspan font-size="6.45" dy="1.4">3</tspan><tspan dy="-1.4">-pyruvate</tspan></text>
<text x="572.00" y="814.00" font-size="9.7" textLength="60.40" lengthAdjust="spacingAndGlyphs">U87 xenograft</text>
<text x="0" y="0" font-size="10.6" text-anchor="middle" fill="#231f20" transform="translate(498.50,879.70) rotate(-90)" textLength="101.6" lengthAdjust="spacingAndGlyphs">Concentration (nmol/g)</text>
<line x1="524.20" y1="827.10" x2="524.20" y2="857.80" stroke="#231f20" stroke-width="1.1"/>
<line x1="524.20" y1="864.60" x2="524.20" y2="889.00" stroke="#231f20" stroke-width="1.1"/>
<line x1="524.20" y1="895.80" x2="524.20" y2="931.90" stroke="#231f20" stroke-width="1.1"/>
<line x1="521.00" y1="832.80" x2="524.20" y2="832.80" stroke="#231f20" stroke-width="1.1"/>
<text x="520.00" y="835.50" font-size="8.4" text-anchor="end">300</text>
<line x1="521.00" y1="841.40" x2="524.20" y2="841.40" stroke="#231f20" stroke-width="1.1"/>
<text x="520.00" y="844.10" font-size="8.4" text-anchor="end">200</text>
<line x1="521.00" y1="849.40" x2="524.20" y2="849.40" stroke="#231f20" stroke-width="1.1"/>
<text x="520.00" y="852.10" font-size="8.4" text-anchor="end">100</text>
<line x1="521.00" y1="867.70" x2="524.20" y2="867.70" stroke="#231f20" stroke-width="1.1"/>
<text x="520.00" y="870.40" font-size="8.4" text-anchor="end">12</text>
<line x1="521.00" y1="878.50" x2="524.20" y2="878.50" stroke="#231f20" stroke-width="1.1"/>
<text x="520.00" y="881.20" font-size="8.4" text-anchor="end">8</text>
<line x1="521.00" y1="888.40" x2="524.20" y2="888.40" stroke="#231f20" stroke-width="1.1"/>
<text x="520.00" y="891.10" font-size="8.4" text-anchor="end">4</text>
<line x1="521.00" y1="905.00" x2="524.20" y2="905.00" stroke="#231f20" stroke-width="1.1"/>
<text x="520.00" y="907.70" font-size="8.4" text-anchor="end">0.6</text>
<line x1="521.00" y1="918.50" x2="524.20" y2="918.50" stroke="#231f20" stroke-width="1.1"/>
<text x="520.00" y="921.20" font-size="8.4" text-anchor="end">0.3</text>
<line x1="521.00" y1="931.90" x2="524.20" y2="931.90" stroke="#231f20" stroke-width="1.1"/>
<text x="520.00" y="934.60" font-size="8.4" text-anchor="end">0.0</text>
<path d="M521.6,860.0 L526.8000000000001,855.5999999999999" stroke="#231f20" stroke-width="1.1"/>
<path d="M521.6,866.8000000000001 L526.8000000000001,862.4" stroke="#231f20" stroke-width="1.1"/>
<path d="M521.6,891.2 L526.8000000000001,886.8" stroke="#231f20" stroke-width="1.1"/>
<path d="M521.6,898.0 L526.8000000000001,893.5999999999999" stroke="#231f20" stroke-width="1.1"/>
<path d="M536.10,867.10 L532.10,867.10 L532.70,870.00 L534.60,876.30 L533.50,880.00 L531.80,883.60 L532.60,886.70 L539.60,886.70 L540.40,883.60 L538.70,880.00 L537.60,876.30 L539.50,870.00 L540.10,867.10 Z" fill="#6a9cf7" stroke="#1f3fe6" stroke-width="1.0" stroke-linejoin="round"/>
<line x1="532.60" y1="881.80" x2="539.60" y2="881.80" stroke="#222" stroke-width="1" stroke-dasharray="1.8,1"/>
<circle cx="535.50" cy="870.37" r="0.55" fill="#1f3fe6"/>
<circle cx="536.90" cy="876.90" r="0.55" fill="#1f3fe6"/>
<circle cx="535.50" cy="883.43" r="0.55" fill="#1f3fe6"/>
<path d="M551.20,874.40 L549.60,874.40 L549.00,876.00 L550.20,878.00 L548.60,882.00 L546.60,884.80 L548.20,887.30 L554.20,887.30 L555.80,884.80 L553.80,882.00 L552.20,878.00 L553.40,876.00 L552.80,874.40 Z" fill="#f3b0b8" stroke="#ee2636" stroke-width="1.0" stroke-linejoin="round"/>
<line x1="547.70" y1="884.50" x2="554.70" y2="884.50" stroke="#222" stroke-width="1" stroke-dasharray="1.8,1"/>
<circle cx="550.60" cy="877.62" r="0.55" fill="#ee2636"/>
<circle cx="552.00" cy="884.07" r="0.55" fill="#ee2636"/>
<path d="M575.70,828.00 L571.90,828.00 L571.10,832.00 L571.70,836.00 L574.20,841.40 L573.10,845.00 L572.50,847.50 L578.90,847.50 L578.30,845.00 L577.20,841.40 L579.70,836.00 L580.30,832.00 L579.50,828.00 Z" fill="#6a9cf7" stroke="#1f3fe6" stroke-width="1.0" stroke-linejoin="round"/>
<line x1="572.20" y1="835.30" x2="579.20" y2="835.30" stroke="#222" stroke-width="1" stroke-dasharray="1.8,1"/>
<circle cx="575.10" cy="831.25" r="0.55" fill="#1f3fe6"/>
<circle cx="576.50" cy="837.75" r="0.55" fill="#1f3fe6"/>
<circle cx="575.10" cy="844.25" r="0.55" fill="#1f3fe6"/>
<path d="M590.30,850.00 L588.30,850.00 L586.50,852.00 L586.00,853.70 L586.50,855.50 L588.30,857.30 L592.30,857.30 L594.10,855.50 L594.60,853.70 L594.10,852.00 L592.30,850.00 Z" fill="#f3b0b8" stroke="#ee2636" stroke-width="1.0" stroke-linejoin="round"/>
<line x1="586.80" y1="853.70" x2="593.80" y2="853.70" stroke="#222" stroke-width="1" stroke-dasharray="1.8,1"/>
<circle cx="589.70" cy="851.83" r="0.55" fill="#ee2636"/>
<circle cx="591.10" cy="855.47" r="0.55" fill="#ee2636"/>
<path d="M614.90,908.00 L611.20,908.00 L611.90,910.00 L612.40,912.30 L611.30,915.00 L610.30,918.50 L610.60,921.60 L619.20,921.60 L619.50,918.50 L618.50,915.00 L617.40,912.30 L617.90,910.00 L618.60,908.00 Z" fill="#6a9cf7" stroke="#1f3fe6" stroke-width="1.0" stroke-linejoin="round"/>
<line x1="611.40" y1="916.30" x2="618.40" y2="916.30" stroke="#222" stroke-width="1" stroke-dasharray="1.8,1"/>
<circle cx="614.30" cy="911.40" r="0.55" fill="#1f3fe6"/>
<circle cx="615.70" cy="918.20" r="0.55" fill="#1f3fe6"/>
<path d="M629.80,929.00 L627.30,929.00 L625.50,930.30 L626.30,931.50 L627.80,932.20 L631.80,932.20 L633.30,931.50 L634.10,930.30 L632.30,929.00 Z" fill="#f3b0b8" stroke="#ee2636" stroke-width="1.0" stroke-linejoin="round"/>
<line x1="626.30" y1="930.50" x2="633.30" y2="930.50" stroke="#222" stroke-width="1" stroke-dasharray="1.8,1"/>
<circle cx="629.20" cy="929.80" r="0.55" fill="#ee2636"/>
<circle cx="630.60" cy="931.40" r="0.55" fill="#ee2636"/>
<path d="M654.20,900.20 L651.10,900.20 L651.60,903.00 L653.30,909.90 L651.40,915.00 L650.20,919.50 L649.60,922.30 L650.20,925.70 L658.20,925.70 L658.80,922.30 L658.20,919.50 L657.00,915.00 L655.10,909.90 L656.80,903.00 L657.30,900.20 Z" fill="#6a9cf7" stroke="#1f3fe6" stroke-width="1.0" stroke-linejoin="round"/>
<line x1="650.70" y1="919.20" x2="657.70" y2="919.20" stroke="#222" stroke-width="1" stroke-dasharray="1.8,1"/>
<circle cx="653.60" cy="903.39" r="0.55" fill="#1f3fe6"/>
<circle cx="655.00" cy="909.76" r="0.55" fill="#1f3fe6"/>
<circle cx="653.60" cy="916.14" r="0.55" fill="#1f3fe6"/>
<circle cx="655.00" cy="922.51" r="0.55" fill="#1f3fe6"/>
<path d="M669.50,915.40 L667.00,915.40 L666.50,918.00 L665.50,921.00 L666.30,923.50 L667.00,926.00 L668.00,928.50 L671.00,928.50 L672.00,926.00 L672.70,923.50 L673.50,921.00 L672.50,918.00 L672.00,915.40 Z" fill="#f3b0b8" stroke="#ee2636" stroke-width="1.0" stroke-linejoin="round"/>
<line x1="666.00" y1="921.50" x2="673.00" y2="921.50" stroke="#222" stroke-width="1" stroke-dasharray="1.8,1"/>
<circle cx="668.90" cy="918.67" r="0.55" fill="#ee2636"/>
<circle cx="670.30" cy="925.23" r="0.55" fill="#ee2636"/>
<line x1="524.20" y1="931.90" x2="681.50" y2="931.90" stroke="#231f20" stroke-width="1.1"/>
<line x1="543.20" y1="931.90" x2="543.20" y2="934.50" stroke="#231f20" stroke-width="1.1"/>
<line x1="583.00" y1="931.90" x2="583.00" y2="934.50" stroke="#231f20" stroke-width="1.1"/>
<line x1="622.40" y1="931.90" x2="622.40" y2="934.50" stroke="#231f20" stroke-width="1.1"/>
<line x1="661.60" y1="931.90" x2="661.60" y2="934.50" stroke="#231f20" stroke-width="1.1"/>
<line x1="613.90" y1="903.30" x2="627.50" y2="903.30" stroke="#444" stroke-width="1.0"/>
<text x="620.70" y="905.90" font-size="11" text-anchor="middle">*</text>
<rect x="607.90" y="835.90" width="10.00" height="6.60" fill="#6a9cf7" stroke="#1f3fe6" stroke-width="1" />
<rect x="607.90" y="847.00" width="10.00" height="6.60" fill="#f3b0b8" stroke="#ee2636" stroke-width="1" />
<text x="623.70" y="842.70" font-size="8.9">NC</text>
<text x="623.70" y="853.90" font-size="8.9"><tspan font-style="italic">AKR1B1</tspan>-KO</text>
<text x="0" y="0" font-size="10.4" text-anchor="end" fill="#231f20" transform="translate(544.10,941.10) rotate(-45)"><tspan font-size="6.24" dy="-3.6">13</tspan><tspan dy="3.6">C</tspan><tspan font-size="6.45" dy="1.4">6</tspan><tspan dy="-1.4">-glucose</tspan></text>
<text x="0" y="0" font-size="10.4" text-anchor="end" fill="#231f20" transform="translate(583.90,941.10) rotate(-45)"><tspan font-size="6.24" dy="-3.6">13</tspan><tspan dy="3.6">C</tspan><tspan font-size="6.45" dy="1.4">3</tspan><tspan dy="-1.4">-lactate</tspan></text>
<text x="0" y="0" font-size="10.4" text-anchor="end" fill="#231f20" transform="translate(623.30,941.10) rotate(-45)"><tspan font-size="6.24" dy="-3.6">13</tspan><tspan dy="3.6">C</tspan><tspan font-size="6.45" dy="1.4">6</tspan><tspan dy="-1.4">-fructose</tspan></text>
<text x="0" y="0" font-size="10.4" text-anchor="end" fill="#231f20" transform="translate(662.50,941.10) rotate(-45)"><tspan font-size="6.24" dy="-3.6">13</tspan><tspan dy="3.6">C</tspan><tspan font-size="6.45" dy="1.4">3</tspan><tspan dy="-1.4">-pyruvate</tspan></text></svg></body></html>
